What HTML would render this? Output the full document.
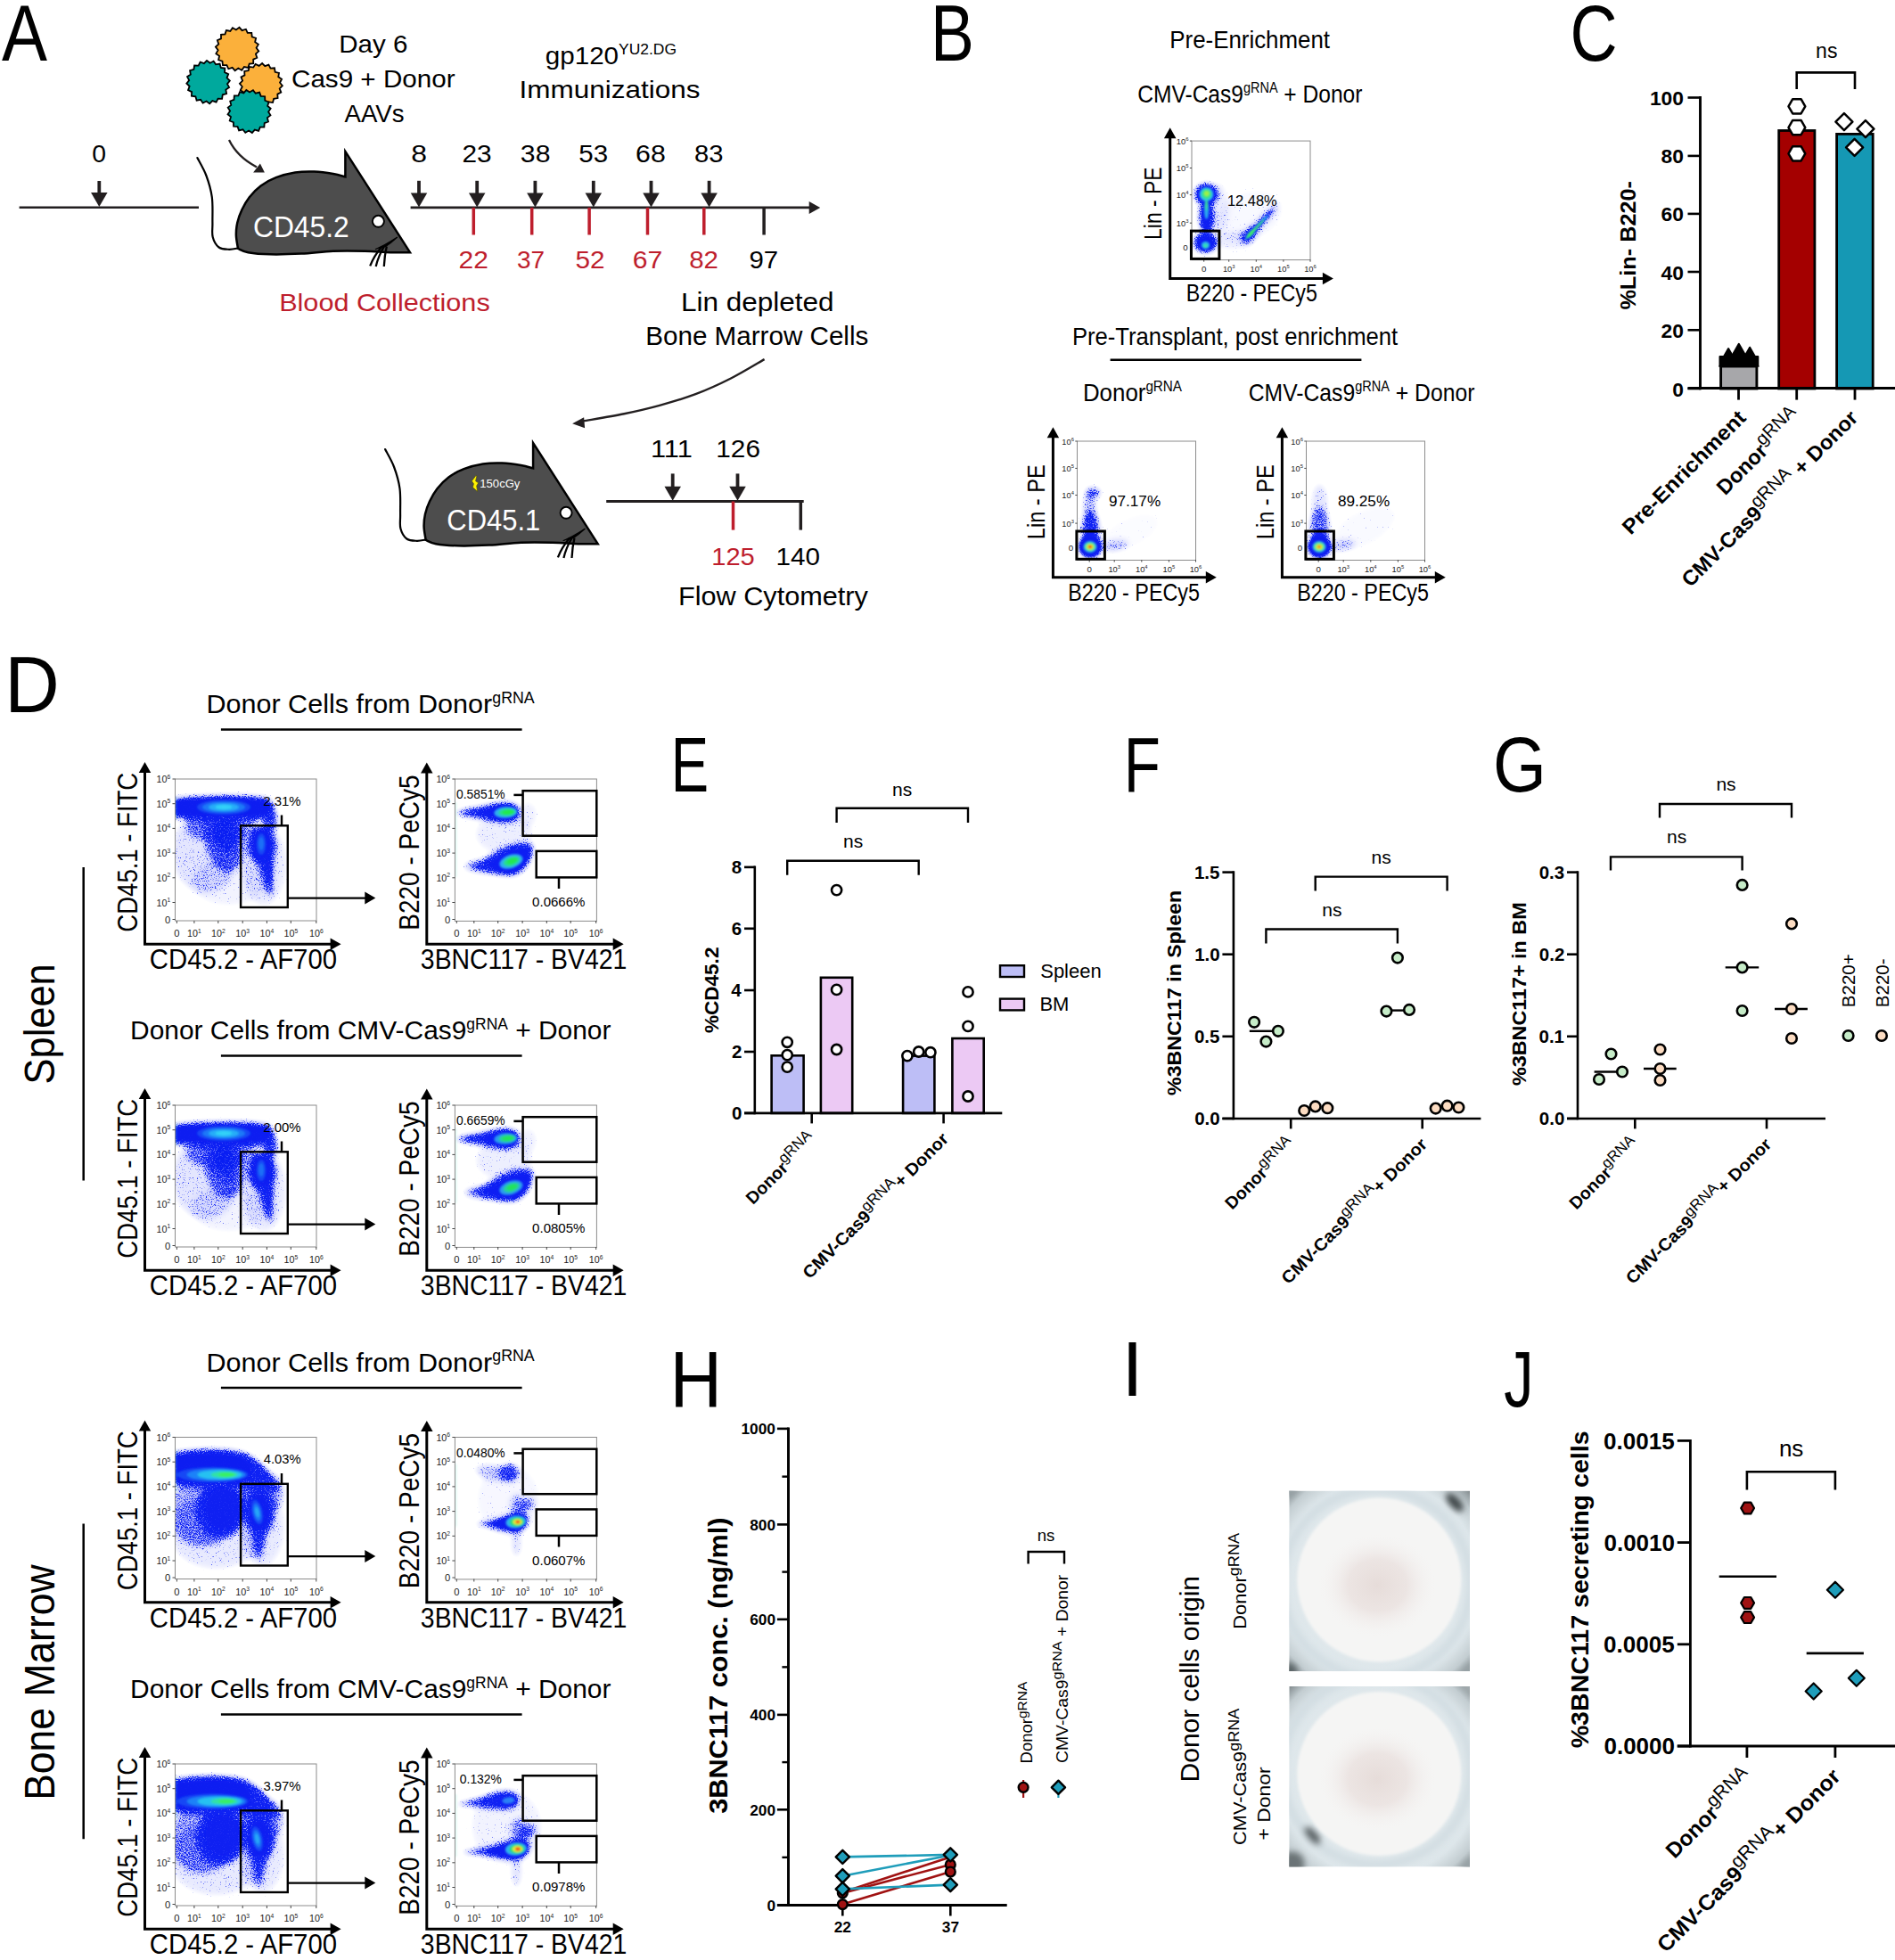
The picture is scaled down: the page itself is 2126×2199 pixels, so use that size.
<!DOCTYPE html>
<html><head><meta charset="utf-8"><title>Figure</title>
<style>html,body{margin:0;padding:0;background:#fff}svg{display:block}text{font-family:"Liberation Sans",sans-serif}</style>
</head><body>
<svg width="2126" height="2199" viewBox="0 0 2126 2199">
<defs>
<filter id="stip" x="-5%" y="-5%" width="110%" height="110%" color-interpolation-filters="sRGB">
<feGaussianBlur in="SourceAlpha" stdDeviation="3.2" result="d"/>
<feTurbulence type="fractalNoise" baseFrequency="0.8" numOctaves="2" seed="7" result="n"/>
<feColorMatrix in="n" type="matrix" values="0 0 0 0 0 0 0 0 0 0 0 0 0 0 0 1.6 0 0 0 -0.3" result="na"/>
<feComposite in="d" in2="na" operator="arithmetic" k1="0" k2="1" k3="1" k4="-1" result="s"/>
<feComponentTransfer in="s" result="t"><feFuncA type="linear" slope="3.2" intercept="0"/></feComponentTransfer>
<feGaussianBlur in="t" stdDeviation="0.45" result="t2"/>
<feComponentTransfer in="d" result="hz"><feFuncA type="linear" slope="0.5" intercept="-0.035"/></feComponentTransfer>
<feComposite in="t2" in2="hz" operator="arithmetic" k1="-1" k2="1" k3="1" k4="0" result="u"/>
<feFlood flood-color="#0f22f4" result="c"/>
<feComposite in="c" in2="u" operator="in"/>
</filter>
<filter id="bl0" x="-30%" y="-30%" width="160%" height="160%"><feGaussianBlur stdDeviation="0.9"/></filter>
<filter id="bl1" x="-30%" y="-30%" width="160%" height="160%"><feGaussianBlur stdDeviation="1.2"/></filter>
<filter id="bl2" x="-30%" y="-30%" width="160%" height="160%"><feGaussianBlur stdDeviation="2.2"/></filter>
<filter id="bl3" x="-30%" y="-30%" width="160%" height="160%"><feGaussianBlur stdDeviation="3.5"/></filter>

<radialGradient id="wellbg" cx="50%" cy="50%" r="71%"><stop offset="0" stop-color="#e9eff1"/><stop offset="0.78" stop-color="#dde6ea"/><stop offset="0.9" stop-color="#c3cdd1"/><stop offset="1" stop-color="#7d8689"/></radialGradient>
<radialGradient id="wellpk" cx="50%" cy="50%" r="50%"><stop offset="0" stop-color="#e6dcd9"/><stop offset="0.5" stop-color="#ebe3e1" stop-opacity="0.9"/><stop offset="1" stop-color="#f5f3f2" stop-opacity="0"/></radialGradient>
<filter id="wbl" x="-20%" y="-20%" width="140%" height="140%"><feGaussianBlur stdDeviation="3.5"/></filter>
<filter id="wbl2" x="-20%" y="-20%" width="140%" height="140%"><feGaussianBlur stdDeviation="1.6"/></filter>
</defs>
<rect width="2126" height="2199" fill="#fff"/>
<text transform="translate(2.05 68.1) scale(0.8653 1)" font-size="88.37">A</text>
<line x1="21.6" y1="232.7" x2="223" y2="232.7" stroke="#231f20" stroke-width="2.6"/>
<line x1="111.3" y1="203" x2="111.3" y2="223" stroke="#231f20" stroke-width="3.8"/>
<polygon points="111.3,232 102.05,216 120.55,216" fill="#231f20"/>
<text x="103.27" y="182.4" font-size="27.5" textLength="15.76" lengthAdjust="spacingAndGlyphs">0</text>
<polygon points="290.28,57.43 286.9,60.47 288.35,64.78 284.19,66.63 284.23,71.17 279.71,71.65 278.35,75.99 273.9,75.04 271.26,78.74 267.33,76.47 263.67,79.18 260.63,75.8 256.32,77.25 254.47,73.09 249.93,73.13 249.45,68.61 245.11,67.25 246.06,62.8 242.36,60.16 244.63,56.23 241.92,52.57 245.3,49.53 243.85,45.22 248.01,43.37 247.97,38.83 252.49,38.35 253.85,34.01 258.3,34.96 260.94,31.26 264.87,33.53 268.53,30.82 271.57,34.2 275.88,32.75 277.73,36.91 282.27,36.87 282.75,41.39 287.09,42.75 286.14,47.2 289.84,49.84 287.57,53.77" fill="#fbb03b" stroke="#000" stroke-width="1.8" stroke-linejoin="miter"/>
<polygon points="257.14,98.11 253.35,100.61 254.13,105.09 249.75,106.3 249.11,110.8 244.57,110.6 242.58,114.68 238.32,113.08 235.16,116.35 231.6,113.51 227.59,115.64 225.09,111.85 220.61,112.63 219.4,108.25 214.9,107.61 215.1,103.07 211.02,101.08 212.62,96.82 209.35,93.66 212.19,90.1 210.06,86.09 213.85,83.59 213.07,79.11 217.45,77.9 218.09,73.4 222.63,73.6 224.62,69.52 228.88,71.12 232.04,67.85 235.6,70.69 239.61,68.56 242.11,72.35 246.59,71.57 247.8,75.95 252.3,76.59 252.1,81.13 256.18,83.12 254.58,87.38 257.85,90.54 255.01,94.1" fill="#00a99d" stroke="#000" stroke-width="1.8" stroke-linejoin="miter"/>
<polygon points="316.87,96.2 313.69,99.37 315.33,103.55 311.32,105.58 311.59,110.06 307.15,110.75 306.02,115.1 301.58,114.38 299.17,118.17 295.17,116.12 291.7,118.97 288.53,115.79 284.35,117.43 282.32,113.42 277.84,113.69 277.15,109.25 272.8,108.12 273.52,103.68 269.73,101.27 271.78,97.27 268.93,93.8 272.11,90.63 270.47,86.45 274.48,84.42 274.21,79.94 278.65,79.25 279.78,74.9 284.22,75.62 286.63,71.83 290.63,73.88 294.1,71.03 297.27,74.21 301.45,72.57 303.48,76.58 307.96,76.31 308.65,80.75 313,81.88 312.28,86.32 316.07,88.73 314.02,92.73" fill="#fbb03b" stroke="#000" stroke-width="1.8" stroke-linejoin="miter"/>
<polygon points="303.51,129.35 299.9,132.11 300.99,136.53 296.7,138.04 296.38,142.57 291.84,142.68 290.13,146.9 285.78,145.6 282.85,149.08 279.11,146.5 275.25,148.91 272.49,145.3 268.07,146.39 266.56,142.1 262.03,141.78 261.92,137.24 257.7,135.53 259,131.18 255.52,128.25 258.1,124.51 255.69,120.65 259.3,117.89 258.21,113.47 262.5,111.96 262.82,107.43 267.36,107.32 269.07,103.1 273.42,104.4 276.35,100.92 280.09,103.5 283.95,101.09 286.71,104.7 291.13,103.61 292.64,107.9 297.17,108.22 297.28,112.76 301.5,114.47 300.2,118.82 303.68,121.75 301.1,125.49" fill="#00a99d" stroke="#000" stroke-width="1.8" stroke-linejoin="miter"/>
<path d="M257,157.1 Q266,176 288,187.5" fill="none" stroke="#231f20" stroke-width="2.3"/>
<polygon points="296.9,193.5 284.1,193.5 291.9,183.5" fill="#231f20"/>
<text x="380.19" y="58.6" font-size="28.5" textLength="77.11" lengthAdjust="spacingAndGlyphs">Day 6</text>
<text x="327.02" y="97.8" font-size="28.5" textLength="183.51" lengthAdjust="spacingAndGlyphs">Cas9 + Donor</text>
<text x="386.5" y="137.2" font-size="28.5" textLength="67.02" lengthAdjust="spacingAndGlyphs">AAVs</text>
<g transform="translate(0 0)">
<path d="M221.4,177.1 C223.07,180.42 228.67,189.65 231.4,197 C234.13,204.35 236.63,212.42 237.8,221.2 C238.97,229.98 238.25,242.23 238.4,249.7 C238.55,257.17 237.5,261.37 238.7,266 C239.9,270.63 242.55,275.2 245.6,277.5 C248.65,279.8 253.35,279.65 257,279.8 C260.65,279.95 265.75,278.63 267.5,278.4" fill="none" stroke="#000" stroke-width="2.2" stroke-linecap="round"/>
<path d="M267,278.9 C266.65,276.42 265.02,268.87 264.9,264 C264.78,259.13 265.23,254.45 266.3,249.7 C267.37,244.95 269.05,240.25 271.3,235.5 C273.55,230.75 276.25,225.72 279.8,221.2 C283.35,216.68 287.62,212.07 292.6,208.4 C297.58,204.73 303.28,201.68 309.7,199.2 C316.12,196.72 323.97,194.62 331.1,193.5 C338.23,192.38 345.38,192.27 352.5,192.5 C359.62,192.73 367.98,193.92 373.8,194.9 C379.62,195.88 385.13,197.82 387.4,198.4 L387.4,169.9 L460,283.2  C456.33,283.2 446.42,283.43 438,283.2 C429.58,282.97 420.2,282.03 409.5,281.8 C398.8,281.57 385.68,281.33 373.8,281.8 C361.92,282.27 350.07,284.02 338.2,284.6 C326.33,285.18 312.57,285.53 302.6,285.3 C292.63,285.07 284.33,284.27 278.4,283.2 C272.47,282.13 268.9,279.62 267,278.9 Z" fill="#4d4d4d" stroke="#000" stroke-width="2.5" stroke-linejoin="miter"/>
<circle cx="424.4" cy="248.3" r="6.5" fill="#fff" stroke="#000" stroke-width="1.9"/>
<path d="M420.9,279.7 C427,277.5 436,272.5 445.8,266.1 C440,271.5 436,274.5 432,277" fill="#000" stroke="#000" stroke-width="1.2"/>
<path d="M428.5,276.5 C423,283 418,291 415.2,298.4 M431,276.5 C426.5,284 423.5,291 421.7,299 M433.8,276.5 C432,284 431.2,291 430.8,299" fill="none" stroke="#000" stroke-width="2.3"/>
</g>
<text x="283.91" y="266.1" font-size="33" fill="#fff" textLength="107.9" lengthAdjust="spacingAndGlyphs">CD45.2</text>
<line x1="460.6" y1="232.9" x2="910" y2="232.9" stroke="#231f20" stroke-width="2.7"/>
<polygon points="920.2,232.9 907.7,239.9 907.7,225.9" fill="#231f20"/>
<line x1="470" y1="202.8" x2="470" y2="223.4" stroke="#231f20" stroke-width="3.8"/>
<polygon points="470,232.4 460.75,216.4 479.25,216.4" fill="#231f20"/>
<text x="461.26" y="182.2" font-size="27.5" textLength="17.75" lengthAdjust="spacingAndGlyphs">8</text>
<line x1="535.2" y1="202.8" x2="535.2" y2="223.4" stroke="#231f20" stroke-width="3.8"/>
<polygon points="535.2,232.4 525.95,216.4 544.45,216.4" fill="#231f20"/>
<text x="518.41" y="182.2" font-size="27.5" textLength="33.15" lengthAdjust="spacingAndGlyphs">23</text>
<line x1="600.4" y1="202.8" x2="600.4" y2="223.4" stroke="#231f20" stroke-width="3.8"/>
<polygon points="600.4,232.4 591.15,216.4 609.65,216.4" fill="#231f20"/>
<text x="583.89" y="182.2" font-size="27.5" textLength="33.59" lengthAdjust="spacingAndGlyphs">38</text>
<line x1="665.8" y1="202.8" x2="665.8" y2="223.4" stroke="#231f20" stroke-width="3.8"/>
<polygon points="665.8,232.4 656.55,216.4 675.05,216.4" fill="#231f20"/>
<text x="649.32" y="182.2" font-size="27.5" textLength="32.83" lengthAdjust="spacingAndGlyphs">53</text>
<line x1="730.5" y1="202.8" x2="730.5" y2="223.4" stroke="#231f20" stroke-width="3.8"/>
<polygon points="730.5,232.4 721.25,216.4 739.75,216.4" fill="#231f20"/>
<text x="713.09" y="182.2" font-size="27.5" textLength="33.7" lengthAdjust="spacingAndGlyphs">68</text>
<line x1="795.6" y1="202.8" x2="795.6" y2="223.4" stroke="#231f20" stroke-width="3.8"/>
<polygon points="795.6,232.4 786.35,216.4 804.85,216.4" fill="#231f20"/>
<text x="778.99" y="182.2" font-size="27.5" textLength="32.45" lengthAdjust="spacingAndGlyphs">83</text>
<line x1="531.3" y1="232.9" x2="531.3" y2="263.5" stroke="#be1e2d" stroke-width="3.5"/>
<text x="514.5" y="301" font-size="27.5" fill="#be1e2d" textLength="33.37" lengthAdjust="spacingAndGlyphs">22</text>
<line x1="596.7" y1="232.9" x2="596.7" y2="263.5" stroke="#be1e2d" stroke-width="3.5"/>
<text x="579.98" y="301" font-size="27.5" fill="#be1e2d" textLength="31.08" lengthAdjust="spacingAndGlyphs">37</text>
<line x1="661.1" y1="232.9" x2="661.1" y2="263.5" stroke="#be1e2d" stroke-width="3.5"/>
<text x="645.41" y="301" font-size="27.5" fill="#be1e2d" textLength="33.04" lengthAdjust="spacingAndGlyphs">52</text>
<line x1="726.5" y1="232.9" x2="726.5" y2="263.5" stroke="#be1e2d" stroke-width="3.5"/>
<text x="709.7" y="301" font-size="27.5" fill="#be1e2d" textLength="33.48" lengthAdjust="spacingAndGlyphs">67</text>
<line x1="789.8" y1="232.9" x2="789.8" y2="263.5" stroke="#be1e2d" stroke-width="3.5"/>
<text x="773.17" y="301" font-size="27.5" fill="#be1e2d" textLength="32.77" lengthAdjust="spacingAndGlyphs">82</text>
<line x1="857.1" y1="232.9" x2="857.1" y2="263.5" stroke="#231f20" stroke-width="3.5"/>
<text x="840.48" y="301" font-size="27.5" textLength="32.66" lengthAdjust="spacingAndGlyphs">97</text>
<g transform="translate(613 71.8)">
<text x="-1.18" y="0" font-size="28.5" textLength="82.25" lengthAdjust="spacingAndGlyphs">gp120</text>
<text x="81.06" y="-11" font-size="16.8" textLength="64.91" lengthAdjust="spacingAndGlyphs">YU2.DG</text>
</g>
<text x="582.57" y="110" font-size="28.5" textLength="203" lengthAdjust="spacingAndGlyphs">Immunizations</text>
<text x="313.15" y="348.7" font-size="28.5" fill="#be1e2d" textLength="236.58" lengthAdjust="spacingAndGlyphs">Blood Collections</text>
<text x="763.98" y="348.7" font-size="29" textLength="171.54" lengthAdjust="spacingAndGlyphs">Lin depleted</text>
<text x="724.23" y="387" font-size="29" textLength="250.13" lengthAdjust="spacingAndGlyphs">Bone Marrow Cells</text>
<path d="M857.6,403.1 C851.33,406.67 832.87,417.98 820,424.5 C807.13,431.02 793.73,437.15 780.4,442.2 C767.07,447.25 753.37,451.13 740,454.8 C726.63,458.47 714.45,461.27 700.2,464.2 C685.95,467.13 662.12,471.03 654.5,472.4" fill="none" stroke="#231f20" stroke-width="2.4"/>
<polygon points="642.1,475.2 655.1,468.2 656.1,480.3" fill="#231f20"/>
<g transform="translate(210.7 327)">
<path d="M221.4,177.1 C223.07,180.42 228.67,189.65 231.4,197 C234.13,204.35 236.63,212.42 237.8,221.2 C238.97,229.98 238.25,242.23 238.4,249.7 C238.55,257.17 237.5,261.37 238.7,266 C239.9,270.63 242.55,275.2 245.6,277.5 C248.65,279.8 253.35,279.65 257,279.8 C260.65,279.95 265.75,278.63 267.5,278.4" fill="none" stroke="#000" stroke-width="2.2" stroke-linecap="round"/>
<path d="M267,278.9 C266.65,276.42 265.02,268.87 264.9,264 C264.78,259.13 265.23,254.45 266.3,249.7 C267.37,244.95 269.05,240.25 271.3,235.5 C273.55,230.75 276.25,225.72 279.8,221.2 C283.35,216.68 287.62,212.07 292.6,208.4 C297.58,204.73 303.28,201.68 309.7,199.2 C316.12,196.72 323.97,194.62 331.1,193.5 C338.23,192.38 345.38,192.27 352.5,192.5 C359.62,192.73 367.98,193.92 373.8,194.9 C379.62,195.88 385.13,197.82 387.4,198.4 L387.4,169.9 L460,283.2  C456.33,283.2 446.42,283.43 438,283.2 C429.58,282.97 420.2,282.03 409.5,281.8 C398.8,281.57 385.68,281.33 373.8,281.8 C361.92,282.27 350.07,284.02 338.2,284.6 C326.33,285.18 312.57,285.53 302.6,285.3 C292.63,285.07 284.33,284.27 278.4,283.2 C272.47,282.13 268.9,279.62 267,278.9 Z" fill="#4d4d4d" stroke="#000" stroke-width="2.5" stroke-linejoin="miter"/>
<circle cx="424.4" cy="248.3" r="6.5" fill="#fff" stroke="#000" stroke-width="1.9"/>
<path d="M420.9,279.7 C427,277.5 436,272.5 445.8,266.1 C440,271.5 436,274.5 432,277" fill="#000" stroke="#000" stroke-width="1.2"/>
<path d="M428.5,276.5 C423,283 418,291 415.2,298.4 M431,276.5 C426.5,284 423.5,291 421.7,299 M433.8,276.5 C432,284 431.2,291 430.8,299" fill="none" stroke="#000" stroke-width="2.3"/>
</g>
<text x="501.35" y="595.3" font-size="33" fill="#fff" textLength="104.86" lengthAdjust="spacingAndGlyphs">CD45.1</text>
<text x="538.32" y="546.8" font-size="13.3" fill="#fff" textLength="45.1" lengthAdjust="spacingAndGlyphs">150cGy</text>
<path d="M533.8,533.7 L529.3,539.7 L531.4,542.8 L530.4,546.8 L535.7,551.4 L534.7,545.1 L536.7,541.8 L533.6,539.7 L535.0,534.0 Z" fill="#fff200" stroke="#4a4a10" stroke-width="0.7" stroke-linejoin="round"/>
<line x1="680.2" y1="562.5" x2="901.7" y2="562.5" stroke="#231f20" stroke-width="2.8"/>
<line x1="754.7" y1="531.4" x2="754.7" y2="552.8" stroke="#231f20" stroke-width="3.8"/>
<polygon points="754.7,561.8 745.45,545.8 763.95,545.8" fill="#231f20"/>
<line x1="827.5" y1="531.4" x2="827.5" y2="552.8" stroke="#231f20" stroke-width="3.8"/>
<polygon points="827.5,561.8 818.25,545.8 836.75,545.8" fill="#231f20"/>
<text x="730.04" y="513.3" font-size="28.5" textLength="46.8" lengthAdjust="spacingAndGlyphs">111</text>
<text x="803.32" y="513.3" font-size="28.5" textLength="49.62" lengthAdjust="spacingAndGlyphs">126</text>
<line x1="822.5" y1="562.5" x2="822.5" y2="594.6" stroke="#be1e2d" stroke-width="3.5"/>
<line x1="898.3" y1="562.5" x2="898.3" y2="594.6" stroke="#231f20" stroke-width="3.5"/>
<text x="798.27" y="633.7" font-size="28.5" fill="#be1e2d" textLength="48.55" lengthAdjust="spacingAndGlyphs">125</text>
<text x="870.53" y="633.7" font-size="28.5" textLength="49.47" lengthAdjust="spacingAndGlyphs">140</text>
<text x="760.95" y="678.8" font-size="30" textLength="212.97" lengthAdjust="spacingAndGlyphs">Flow Cytometry</text>
<text transform="translate(1043.99 68.3) scale(0.8201 1)" font-size="89.39">B</text>
<text x="1312.33" y="53.6" font-size="28" textLength="179.65" lengthAdjust="spacingAndGlyphs">Pre-Enrichment</text>
<g transform="translate(1277.5 114.5)">
<text x="-1.23" y="0" font-size="28" textLength="118.68" lengthAdjust="spacingAndGlyphs">CMV-Cas9</text>
<text x="117.45" y="-10.8" font-size="16.5" textLength="38.59" lengthAdjust="spacingAndGlyphs">gRNA</text>
<text x="156.04" y="0" font-size="28" textLength="94.84" lengthAdjust="spacingAndGlyphs" xml:space="preserve"> + Donor</text>
</g>
<path d="M1312.7,152.3 V312.4 H1486.9" fill="none" stroke="#000" stroke-width="3" stroke-linejoin="miter"/>
<polygon points="1312.7,143.3 1319.45,155.3 1305.95,155.3" fill="#000"/>
<polygon points="1495.9,312.4 1483.9,319.15 1483.9,305.65" fill="#000"/>
<clipPath id="cp1"><rect x="1337" y="158.1" width="133" height="133.5"/></clipPath>
<g clip-path="url(#cp1)">
<g filter="url(#stip)"><ellipse cx="1353.5" cy="218.1" rx="13.5" ry="12.5" fill="#000"/><ellipse cx="1353.5" cy="243.1" rx="8.5" ry="19" fill="#000"/><ellipse cx="1352.5" cy="272.1" rx="13.5" ry="11.5" fill="#000"/><ellipse cx="1414.3" cy="250.3" rx="27" ry="3.2" fill="#000" transform="rotate(-46.9 1414.3 250.3)"/><ellipse cx="1404" cy="261.1" rx="13" ry="5.5" fill="#000" transform="rotate(-46.9 1404 261.1)"/><ellipse cx="1399" cy="266.1" rx="8.5" ry="7.5" fill="#000" opacity="0.7"/><ellipse cx="1401" cy="242.1" rx="40" ry="28" fill="#000" opacity="0.13" transform="rotate(-20 1401 242.1)"/><ellipse cx="1383" cy="270.1" rx="22" ry="10" fill="#000" opacity="0.22"/><ellipse cx="1367" cy="233.1" rx="12" ry="28" fill="#000" opacity="0.2"/></g>
<g filter="url(#bl1)"><ellipse cx="1353.5" cy="218.1" rx="10.5" ry="9.5" fill="#0c1ef2" opacity="0.95"/><ellipse cx="1353.5" cy="242.1" rx="4.8" ry="17" fill="#0c1ef2" opacity="0.9"/><ellipse cx="1352.5" cy="273.1" rx="9.8" ry="8" fill="#0c1ef2" opacity="0.95"/><ellipse cx="1412" cy="252.7" rx="23" ry="1.8" fill="#0c1ef2" opacity="0.95" transform="rotate(-46.9 1412 252.7)"/><ellipse cx="1403.5" cy="261.7" rx="10" ry="3.2" fill="#0c1ef2" opacity="0.95" transform="rotate(-46.9 1403.5 261.7)"/></g>
<g filter="url(#bl0)"><ellipse cx="1353.5" cy="218.1" rx="7.8" ry="7.8" fill="#30c8ec" opacity="0.95"/><ellipse cx="1353.6" cy="217.7" rx="5.3" ry="5.5" fill="#38e87a" opacity="0.95"/><ellipse cx="1353.8" cy="217.1" rx="2.8" ry="2.9" fill="#a8f040" opacity="0.95"/><ellipse cx="1353.5" cy="235.1" rx="2.6" ry="11" fill="#30c8ec" opacity="0.8"/><ellipse cx="1353.5" cy="230.1" rx="1.6" ry="6" fill="#38e87a" opacity="0.7"/><ellipse cx="1352.5" cy="275.1" rx="4.6" ry="4.2" fill="#30c8ec" opacity="0.9"/><ellipse cx="1352.5" cy="275.7" rx="2.3" ry="2.1" fill="#38e8a0" opacity="0.9"/><ellipse cx="1410" cy="254.9" rx="19" ry="1.5" fill="#30c8ec" opacity="0.95" transform="rotate(-46.9 1410 254.9)"/><ellipse cx="1403.5" cy="261.8" rx="8" ry="2.4" fill="#30d8d0" opacity="0.95" transform="rotate(-46.9 1403.5 261.8)"/><ellipse cx="1408" cy="257" rx="15" ry="1" fill="#40ee50" opacity="0.95" transform="rotate(-46.9 1408 257)"/><ellipse cx="1403.5" cy="261.8" rx="6" ry="1.7" fill="#40ee50" opacity="0.95" transform="rotate(-46.9 1403.5 261.8)"/></g>
</g>
<rect x="1337" y="158.1" width="133" height="133.5" fill="none" stroke="#8c8c8c" stroke-width="1"/>
<text x="1319.81" y="161.6" font-size="9.7" fill="#1c1c1c" textLength="10.36" lengthAdjust="spacingAndGlyphs">10</text><text x="1330.16" y="157.72" font-size="5.82" fill="#1c1c1c">6</text>
<line x1="1334.8" y1="158.1" x2="1337" y2="158.1" stroke="#333" stroke-width="0.9"/>
<text x="1319.81" y="192" font-size="9.7" fill="#1c1c1c" textLength="10.36" lengthAdjust="spacingAndGlyphs">10</text><text x="1330.16" y="188.12" font-size="5.82" fill="#1c1c1c">5</text>
<line x1="1334.8" y1="188.5" x2="1337" y2="188.5" stroke="#333" stroke-width="0.9"/>
<text x="1319.81" y="222.1" font-size="9.7" fill="#1c1c1c" textLength="10.36" lengthAdjust="spacingAndGlyphs">10</text><text x="1330.16" y="218.22" font-size="5.82" fill="#1c1c1c">4</text>
<line x1="1334.8" y1="218.6" x2="1337" y2="218.6" stroke="#333" stroke-width="0.9"/>
<text x="1319.81" y="253.7" font-size="9.7" fill="#1c1c1c" textLength="10.36" lengthAdjust="spacingAndGlyphs">10</text><text x="1330.16" y="249.82" font-size="5.82" fill="#1c1c1c">3</text>
<line x1="1334.8" y1="250.2" x2="1337" y2="250.2" stroke="#333" stroke-width="0.9"/>
<text x="1327.36" y="281.1" font-size="9.7" fill="#1c1c1c">0</text>
<text x="1347.98" y="304.9" font-size="9.7" fill="#1c1c1c">0</text>
<text x="1371.9" y="304.9" font-size="9.7" fill="#1c1c1c" textLength="10.36" lengthAdjust="spacingAndGlyphs">10</text><text x="1382.26" y="301.02" font-size="5.82" fill="#1c1c1c">3</text>
<line x1="1378.7" y1="291.4" x2="1378.7" y2="293.7" stroke="#333" stroke-width="0.9"/>
<text x="1402.5" y="304.9" font-size="9.7" fill="#1c1c1c" textLength="10.36" lengthAdjust="spacingAndGlyphs">10</text><text x="1412.86" y="301.02" font-size="5.82" fill="#1c1c1c">4</text>
<line x1="1409.3" y1="291.4" x2="1409.3" y2="293.7" stroke="#333" stroke-width="0.9"/>
<text x="1433.1" y="304.9" font-size="9.7" fill="#1c1c1c" textLength="10.36" lengthAdjust="spacingAndGlyphs">10</text><text x="1443.46" y="301.02" font-size="5.82" fill="#1c1c1c">5</text>
<line x1="1439.9" y1="291.4" x2="1439.9" y2="293.7" stroke="#333" stroke-width="0.9"/>
<text x="1463.2" y="304.9" font-size="9.7" fill="#1c1c1c" textLength="10.36" lengthAdjust="spacingAndGlyphs">10</text><text x="1473.56" y="301.02" font-size="5.82" fill="#1c1c1c">6</text>
<line x1="1470" y1="291.4" x2="1470" y2="293.7" stroke="#333" stroke-width="0.9"/>
<line x1="1350.7" y1="291.4" x2="1350.7" y2="293.7" stroke="#333" stroke-width="0.9"/>
<rect x="1336.4" y="259.1" width="31.5" height="31.3" fill="none" stroke="#000" stroke-width="3"/>
<text x="1376.97" y="231.3" font-size="15.6" textLength="55.75" lengthAdjust="spacingAndGlyphs">12.48%</text>
<text transform="translate(1303.2 227.8) rotate(-90)" x="-41.08" y="0" font-size="28" textLength="81.29" lengthAdjust="spacingAndGlyphs">Lin - PE</text>
<text x="1330.74" y="337.7" font-size="28" textLength="147.12" lengthAdjust="spacingAndGlyphs">B220 - PECy5</text>
<text x="1202.95" y="387.4" font-size="28" textLength="365.24" lengthAdjust="spacingAndGlyphs">Pre-Transplant, post enrichment</text>
<line x1="1245.6" y1="403.8" x2="1527.4" y2="403.8" stroke="#000" stroke-width="2.4"/>
<g transform="translate(1217 450.2)">
<text x="-2.07" y="0" font-size="28" textLength="70.45" lengthAdjust="spacingAndGlyphs">Donor</text>
<text x="68.38" y="-10.8" font-size="16.5" textLength="40.66" lengthAdjust="spacingAndGlyphs">gRNA</text>
</g>
<g transform="translate(1402 450.2)">
<text x="-1.23" y="0" font-size="28" textLength="119.39" lengthAdjust="spacingAndGlyphs">CMV-Cas9</text>
<text x="118.16" y="-10.8" font-size="16.5" textLength="38.82" lengthAdjust="spacingAndGlyphs">gRNA</text>
<text x="156.98" y="0" font-size="28" textLength="95.41" lengthAdjust="spacingAndGlyphs" xml:space="preserve"> + Donor</text>
</g>
<path d="M1181.4,488.3 V647.8 H1355.8" fill="none" stroke="#000" stroke-width="3" stroke-linejoin="miter"/>
<polygon points="1181.4,479.3 1188.15,491.3 1174.65,491.3" fill="#000"/>
<polygon points="1364.8,647.8 1352.8,654.55 1352.8,641.05" fill="#000"/>
<clipPath id="cp2"><rect x="1208.5" y="495" width="133" height="133.5"/></clipPath>
<g clip-path="url(#cp2)">
<g filter="url(#stip)"><ellipse cx="1223.5" cy="613" rx="13" ry="13" fill="#000"/><ellipse cx="1223.5" cy="595" rx="10" ry="22" fill="#000" opacity="0.85"/><ellipse cx="1226.5" cy="553" rx="8" ry="6" fill="#000" opacity="0.75"/><ellipse cx="1222.5" cy="575" rx="7" ry="28" fill="#000" opacity="0.5"/><ellipse cx="1250.5" cy="612" rx="15" ry="6" fill="#000" opacity="0.42" transform="rotate(-10 1250.5 612)"/><ellipse cx="1268.5" cy="597" rx="36" ry="18" fill="#000" opacity="0.1" transform="rotate(-25 1268.5 597)"/></g>
<g filter="url(#bl1)"><ellipse cx="1223" cy="613.5" rx="12.3" ry="11.5" fill="#0c1ef2" opacity="0.97"/><path d="M1213.5,607 L1232.5,607 L1225,592 L1221.5,592Z" fill="#0c1ef2" opacity="0.9"/></g>
<g filter="url(#bl0)"><ellipse cx="1223" cy="613.5" rx="7.5" ry="6.5" fill="#35c8e8" opacity="0.95"/><ellipse cx="1223" cy="613.5" rx="5.5" ry="4.5" fill="#6df06a" opacity="0.95"/><ellipse cx="1223" cy="613.5" rx="3.6" ry="2.8" fill="#f2e82c" opacity="0.95"/><ellipse cx="1223" cy="613.5" rx="2.1" ry="1.7" fill="#f02a14"/></g>
</g>
<rect x="1208.5" y="495" width="133" height="133.5" fill="none" stroke="#8c8c8c" stroke-width="1"/>
<text x="1191.31" y="498.5" font-size="9.7" fill="#1c1c1c" textLength="10.36" lengthAdjust="spacingAndGlyphs">10</text><text x="1201.66" y="494.62" font-size="5.82" fill="#1c1c1c">6</text>
<line x1="1206.3" y1="495" x2="1208.5" y2="495" stroke="#333" stroke-width="0.9"/>
<text x="1191.31" y="528.9" font-size="9.7" fill="#1c1c1c" textLength="10.36" lengthAdjust="spacingAndGlyphs">10</text><text x="1201.66" y="525.02" font-size="5.82" fill="#1c1c1c">5</text>
<line x1="1206.3" y1="525.4" x2="1208.5" y2="525.4" stroke="#333" stroke-width="0.9"/>
<text x="1191.31" y="559" font-size="9.7" fill="#1c1c1c" textLength="10.36" lengthAdjust="spacingAndGlyphs">10</text><text x="1201.66" y="555.12" font-size="5.82" fill="#1c1c1c">4</text>
<line x1="1206.3" y1="555.5" x2="1208.5" y2="555.5" stroke="#333" stroke-width="0.9"/>
<text x="1191.31" y="590.6" font-size="9.7" fill="#1c1c1c" textLength="10.36" lengthAdjust="spacingAndGlyphs">10</text><text x="1201.66" y="586.72" font-size="5.82" fill="#1c1c1c">3</text>
<line x1="1206.3" y1="587.1" x2="1208.5" y2="587.1" stroke="#333" stroke-width="0.9"/>
<text x="1198.86" y="618" font-size="9.7" fill="#1c1c1c">0</text>
<text x="1219.48" y="641.8" font-size="9.7" fill="#1c1c1c">0</text>
<text x="1243.4" y="641.8" font-size="9.7" fill="#1c1c1c" textLength="10.36" lengthAdjust="spacingAndGlyphs">10</text><text x="1253.76" y="637.92" font-size="5.82" fill="#1c1c1c">3</text>
<line x1="1250.2" y1="628.3" x2="1250.2" y2="630.6" stroke="#333" stroke-width="0.9"/>
<text x="1274" y="641.8" font-size="9.7" fill="#1c1c1c" textLength="10.36" lengthAdjust="spacingAndGlyphs">10</text><text x="1284.36" y="637.92" font-size="5.82" fill="#1c1c1c">4</text>
<line x1="1280.8" y1="628.3" x2="1280.8" y2="630.6" stroke="#333" stroke-width="0.9"/>
<text x="1304.6" y="641.8" font-size="9.7" fill="#1c1c1c" textLength="10.36" lengthAdjust="spacingAndGlyphs">10</text><text x="1314.96" y="637.92" font-size="5.82" fill="#1c1c1c">5</text>
<line x1="1311.4" y1="628.3" x2="1311.4" y2="630.6" stroke="#333" stroke-width="0.9"/>
<text x="1334.7" y="641.8" font-size="9.7" fill="#1c1c1c" textLength="10.36" lengthAdjust="spacingAndGlyphs">10</text><text x="1345.06" y="637.92" font-size="5.82" fill="#1c1c1c">6</text>
<line x1="1341.5" y1="628.3" x2="1341.5" y2="630.6" stroke="#333" stroke-width="0.9"/>
<line x1="1222.2" y1="628.3" x2="1222.2" y2="630.6" stroke="#333" stroke-width="0.9"/>
<rect x="1207.9" y="596" width="31.5" height="31.3" fill="none" stroke="#000" stroke-width="3"/>
<text x="1244.03" y="568" font-size="15.6" textLength="58.11" lengthAdjust="spacingAndGlyphs">97.17%</text>
<text transform="translate(1172 562.8) rotate(-90)" x="-42.39" y="0" font-size="28" textLength="83.88" lengthAdjust="spacingAndGlyphs">Lin - PE</text>
<text x="1198.13" y="673.6" font-size="28" textLength="147.84" lengthAdjust="spacingAndGlyphs">B220 - PECy5</text>
<path d="M1438.4,488.3 V647.8 H1612.8" fill="none" stroke="#000" stroke-width="3" stroke-linejoin="miter"/>
<polygon points="1438.4,479.3 1445.15,491.3 1431.65,491.3" fill="#000"/>
<polygon points="1621.8,647.8 1609.8,654.55 1609.8,641.05" fill="#000"/>
<clipPath id="cp3"><rect x="1465.5" y="495" width="133" height="133.5"/></clipPath>
<g clip-path="url(#cp3)">
<g filter="url(#stip)"><ellipse cx="1480.5" cy="613" rx="13" ry="13" fill="#000"/><ellipse cx="1480.5" cy="593" rx="11" ry="24" fill="#000" opacity="0.66"/><ellipse cx="1480.5" cy="565" rx="9" ry="22" fill="#000" opacity="0.3"/><ellipse cx="1505.5" cy="612" rx="15" ry="6" fill="#000" opacity="0.4" transform="rotate(-10 1505.5 612)"/><ellipse cx="1530.5" cy="592" rx="40" ry="20" fill="#000" opacity="0.12" transform="rotate(-28 1530.5 592)"/></g>
<g filter="url(#bl1)"><ellipse cx="1480" cy="613.5" rx="12.3" ry="11.5" fill="#0c1ef2" opacity="0.97"/><path d="M1470.5,607 L1489.5,607 L1482,592 L1478.5,592Z" fill="#0c1ef2" opacity="0.9"/></g>
<g filter="url(#bl0)"><ellipse cx="1480" cy="613.5" rx="7.5" ry="6.5" fill="#35c8e8" opacity="0.95"/><ellipse cx="1480" cy="613.5" rx="5.5" ry="4.5" fill="#6df06a" opacity="0.95"/><ellipse cx="1480" cy="613.5" rx="3.4" ry="2.6" fill="#f2e82c" opacity="0.95"/><ellipse cx="1480" cy="613.5" rx="1.7" ry="1.4" fill="#f06a18"/></g>
</g>
<rect x="1465.5" y="495" width="133" height="133.5" fill="none" stroke="#8c8c8c" stroke-width="1"/>
<text x="1448.31" y="498.5" font-size="9.7" fill="#1c1c1c" textLength="10.36" lengthAdjust="spacingAndGlyphs">10</text><text x="1458.66" y="494.62" font-size="5.82" fill="#1c1c1c">6</text>
<line x1="1463.3" y1="495" x2="1465.5" y2="495" stroke="#333" stroke-width="0.9"/>
<text x="1448.31" y="528.9" font-size="9.7" fill="#1c1c1c" textLength="10.36" lengthAdjust="spacingAndGlyphs">10</text><text x="1458.66" y="525.02" font-size="5.82" fill="#1c1c1c">5</text>
<line x1="1463.3" y1="525.4" x2="1465.5" y2="525.4" stroke="#333" stroke-width="0.9"/>
<text x="1448.31" y="559" font-size="9.7" fill="#1c1c1c" textLength="10.36" lengthAdjust="spacingAndGlyphs">10</text><text x="1458.66" y="555.12" font-size="5.82" fill="#1c1c1c">4</text>
<line x1="1463.3" y1="555.5" x2="1465.5" y2="555.5" stroke="#333" stroke-width="0.9"/>
<text x="1448.31" y="590.6" font-size="9.7" fill="#1c1c1c" textLength="10.36" lengthAdjust="spacingAndGlyphs">10</text><text x="1458.66" y="586.72" font-size="5.82" fill="#1c1c1c">3</text>
<line x1="1463.3" y1="587.1" x2="1465.5" y2="587.1" stroke="#333" stroke-width="0.9"/>
<text x="1455.86" y="618" font-size="9.7" fill="#1c1c1c">0</text>
<text x="1476.48" y="641.8" font-size="9.7" fill="#1c1c1c">0</text>
<text x="1500.4" y="641.8" font-size="9.7" fill="#1c1c1c" textLength="10.36" lengthAdjust="spacingAndGlyphs">10</text><text x="1510.76" y="637.92" font-size="5.82" fill="#1c1c1c">3</text>
<line x1="1507.2" y1="628.3" x2="1507.2" y2="630.6" stroke="#333" stroke-width="0.9"/>
<text x="1531" y="641.8" font-size="9.7" fill="#1c1c1c" textLength="10.36" lengthAdjust="spacingAndGlyphs">10</text><text x="1541.36" y="637.92" font-size="5.82" fill="#1c1c1c">4</text>
<line x1="1537.8" y1="628.3" x2="1537.8" y2="630.6" stroke="#333" stroke-width="0.9"/>
<text x="1561.6" y="641.8" font-size="9.7" fill="#1c1c1c" textLength="10.36" lengthAdjust="spacingAndGlyphs">10</text><text x="1571.96" y="637.92" font-size="5.82" fill="#1c1c1c">5</text>
<line x1="1568.4" y1="628.3" x2="1568.4" y2="630.6" stroke="#333" stroke-width="0.9"/>
<text x="1591.7" y="641.8" font-size="9.7" fill="#1c1c1c" textLength="10.36" lengthAdjust="spacingAndGlyphs">10</text><text x="1602.06" y="637.92" font-size="5.82" fill="#1c1c1c">6</text>
<line x1="1598.5" y1="628.3" x2="1598.5" y2="630.6" stroke="#333" stroke-width="0.9"/>
<line x1="1479.2" y1="628.3" x2="1479.2" y2="630.6" stroke="#333" stroke-width="0.9"/>
<rect x="1464.9" y="596" width="31.5" height="31.3" fill="none" stroke="#000" stroke-width="3"/>
<text x="1501.03" y="568" font-size="15.6" textLength="58.11" lengthAdjust="spacingAndGlyphs">89.25%</text>
<text transform="translate(1429 562.8) rotate(-90)" x="-42.39" y="0" font-size="28" textLength="83.88" lengthAdjust="spacingAndGlyphs">Lin - PE</text>
<text x="1455.13" y="673.6" font-size="28" textLength="147.84" lengthAdjust="spacingAndGlyphs">B220 - PECy5</text>
<text transform="translate(1761.45 67.91) scale(0.8282 1)" font-size="88.7">C</text>
<text x="2037.12" y="65.4" font-size="23">ns</text>
<path d="M2015.7,100 V81.4 H2081 V100" fill="none" stroke="#000" stroke-width="2.6"/>
<rect x="1930.6" y="411" width="40.3" height="25" fill="#a7a7aa" stroke="#000" stroke-width="2.9"/>
<rect x="1995.7" y="146.5" width="40.2" height="289.5" fill="#a40000" stroke="#000" stroke-width="2.8"/>
<rect x="2060.6" y="150.4" width="40.6" height="285.6" fill="#1598b4" stroke="#000" stroke-width="2.8"/>
<line x1="1907.5" y1="108" x2="1907.5" y2="437.3" stroke="#000" stroke-width="2.9"/>
<line x1="1893.5" y1="435.5" x2="2126" y2="435.5" stroke="#000" stroke-width="3.1"/>
<line x1="1893.5" y1="109.5" x2="1908" y2="109.5" stroke="#000" stroke-width="2.6"/>
<text x="1850.95" y="118" font-size="22.8" font-weight="bold">100</text>
<line x1="1893.5" y1="174.9" x2="1908" y2="174.9" stroke="#000" stroke-width="2.6"/>
<text x="1863.6" y="183.4" font-size="22.8" font-weight="bold">80</text>
<line x1="1893.5" y1="239.9" x2="1908" y2="239.9" stroke="#000" stroke-width="2.6"/>
<text x="1863.6" y="248.4" font-size="22.8" font-weight="bold">60</text>
<line x1="1893.5" y1="305" x2="1908" y2="305" stroke="#000" stroke-width="2.6"/>
<text x="1863.6" y="313.5" font-size="22.8" font-weight="bold">40</text>
<line x1="1893.5" y1="370.3" x2="1908" y2="370.3" stroke="#000" stroke-width="2.6"/>
<text x="1863.6" y="378.8" font-size="22.8" font-weight="bold">20</text>
<line x1="1893.5" y1="436" x2="1908" y2="436" stroke="#000" stroke-width="2.6"/>
<text x="1876.26" y="444.5" font-size="22.8" font-weight="bold">0</text>
<line x1="1950.5" y1="436" x2="1950.5" y2="448.6" stroke="#000" stroke-width="2.8"/>
<line x1="2015.7" y1="436" x2="2015.7" y2="448.6" stroke="#000" stroke-width="2.8"/>
<line x1="2081" y1="436" x2="2081" y2="448.6" stroke="#000" stroke-width="2.8"/>
<text transform="translate(1834.5 275.5) rotate(-90)" x="-72.13" y="0" font-size="24.5" font-weight="bold" textLength="144.6" lengthAdjust="spacingAndGlyphs">%Lin- B220-</text>
<rect x="1929.5" y="400" width="42.8" height="10.5" fill="#000" stroke="#000" stroke-width="2" stroke-linejoin="round"/>
<polygon points="1939.1,391 1947.1,405 1931.1,405" fill="#000" stroke="#000" stroke-width="2" stroke-linejoin="round"/>
<polygon points="1950.8,385.8 1958.8,399.8 1942.8,399.8" fill="#000" stroke="#000" stroke-width="2" stroke-linejoin="round"/>
<polygon points="1963.1,389.7 1971.1,403.7 1955.1,403.7" fill="#000" stroke="#000" stroke-width="2" stroke-linejoin="round"/>
<polygon points="1929.5,409 1927.8,411.5 1933,411.5" fill="#000"/>
<polygon points="1972.3,409 1974,411.5 1969,411.5" fill="#000"/>
<polygon points="2025.3,119.3 2020.6,127.44 2011.2,127.44 2006.5,119.3 2011.2,111.16 2020.6,111.16" fill="#fff" stroke="#000" stroke-width="2.5" stroke-linejoin="round"/>
<polygon points="2025.3,143.1 2020.6,151.24 2011.2,151.24 2006.5,143.1 2011.2,134.96 2020.6,134.96" fill="#fff" stroke="#000" stroke-width="2.5" stroke-linejoin="round"/>
<polygon points="2025.3,172.3 2020.6,180.44 2011.2,180.44 2006.5,172.3 2011.2,164.16 2020.6,164.16" fill="#fff" stroke="#000" stroke-width="2.5" stroke-linejoin="round"/>
<polygon points="2068.9,127.1 2078.4,136.6 2068.9,146.1 2059.4,136.6" fill="#fff" stroke="#000" stroke-width="2.5" stroke-linejoin="round"/>
<polygon points="2092.9,135.1 2102.4,144.6 2092.9,154.1 2083.4,144.6" fill="#fff" stroke="#000" stroke-width="2.5" stroke-linejoin="round"/>
<polygon points="2080.6,155.9 2090.1,165.4 2080.6,174.9 2071.1,165.4" fill="#fff" stroke="#000" stroke-width="2.5" stroke-linejoin="round"/>
<g transform="translate(1960 470.4) rotate(-45)">
<text x="-184.61" y="0" font-size="23.5" font-weight="bold" textLength="184.9" lengthAdjust="spacingAndGlyphs">Pre-Enrichment</text>
</g>
<g transform="translate(2022.5 469.5) rotate(-45)">
<text x="-123.04" y="0" font-size="23.5" font-weight="bold">Donor</text>
<text x="-53.86" y="-9.63" font-size="20.21">gRNA</text>
</g>
<g transform="translate(2085.6 470.4) rotate(-45)">
<text x="-267.95" y="0" font-size="23.5" font-weight="bold" textLength="116.46" lengthAdjust="spacingAndGlyphs">CMV-Cas9</text>
<text x="-151.49" y="-9.63" font-size="20.21" textLength="54.63" lengthAdjust="spacingAndGlyphs">gRNA</text>
<text x="-96.87" y="0" font-size="23.5" font-weight="bold" textLength="97.24" lengthAdjust="spacingAndGlyphs" xml:space="preserve"> + Donor</text>
</g>
<text transform="translate(5.32 799) scale(0.9602 1)" font-size="88.66">D</text>
<g transform="translate(233.9 800.2)">
<text x="-2.44" y="0" font-size="30" textLength="320.77" lengthAdjust="spacingAndGlyphs">Donor Cells from Donor</text>
<text x="318.33" y="-11.5" font-size="17.5" textLength="47.52" lengthAdjust="spacingAndGlyphs">gRNA</text>
</g>
<line x1="247.9" y1="818.6" x2="585.6" y2="818.6" stroke="#000" stroke-width="2.5"/>
<path d="M162.5,864 V1059.3 H373.6" fill="none" stroke="#000" stroke-width="3" stroke-linejoin="miter"/>
<polygon points="162.5,855 169.25,867 155.75,867" fill="#000"/>
<polygon points="382.6,1059.3 370.6,1066.05 370.6,1052.55" fill="#000"/>
<clipPath id="cp4"><rect x="196.5" y="874" width="158.5" height="159"/></clipPath>
<g clip-path="url(#cp4)">
<g filter="url(#stip)"><g transform="translate(196.5 874)"><path d="M-3,21.5 C30,18 75,17 100,20.5 C114,24 116,40 104,44.5 C80,48.5 30,47.5 -3,43.5Z" fill="#000"/><ellipse cx="52" cy="54" rx="40" ry="17" fill="#000" opacity="0.55"/><ellipse cx="56" cy="68" rx="23" ry="36" fill="#000" opacity="0.62" transform="rotate(-8 56 68)"/><ellipse cx="56" cy="64" rx="14" ry="24" fill="#000" opacity="0.5" transform="rotate(-8 56 64)"/><ellipse cx="34" cy="82" rx="38" ry="46" fill="#000" opacity="0.3"/><ellipse cx="60" cy="116" rx="42" ry="26" fill="#000" opacity="0.18"/><ellipse cx="107" cy="46" rx="8" ry="14" fill="#000" opacity="0.85"/><ellipse cx="97.5" cy="75" rx="15.5" ry="22" fill="#000"/><path d="M90,86 L111,86 L108.5,130 L104,130Z" fill="#000" opacity="0.95"/><ellipse cx="100" cy="96" rx="25" ry="46" fill="#000" opacity="0.24"/></g></g>
<g filter="url(#bl1)"><g transform="translate(196.5 874)"><path d="M0,24.5 C30,21.5 75,20.5 98,24.5 C109,28 109,36.5 100,39.5 C75,43.5 30,42.5 0,39Z" fill="#0c1ef2" opacity="0.97"/><ellipse cx="97.5" cy="74" rx="10.5" ry="17" fill="#0c1ef2" opacity="0.92"/><ellipse cx="104.5" cy="102" rx="2.6" ry="15" fill="#0c1ef2" opacity="0.8" transform="rotate(-4 104.5 102)"/><ellipse cx="56" cy="62" rx="11" ry="18" fill="#0c1ef2" opacity="0.4" transform="rotate(-8 56 62)"/></g></g>
<g filter="url(#bl0)"><g transform="translate(196.5 874)"><ellipse cx="54.5" cy="31.6" rx="30" ry="8.2" fill="#1450f6" opacity="0.85"/><ellipse cx="54.5" cy="31.6" rx="24" ry="6.2" fill="#1c80f8" opacity="0.9"/><ellipse cx="54.5" cy="31.6" rx="17" ry="4.3" fill="#26b0f8" opacity="0.95"/><ellipse cx="54.5" cy="31.6" rx="9.5" ry="2.5" fill="#34d4f8" opacity="0.95"/><ellipse cx="96.6" cy="73" rx="5.2" ry="12" fill="#1450f6" opacity="0.85"/><ellipse cx="96.6" cy="72.5" rx="3" ry="7.5" fill="#1c78f8" opacity="0.85"/><path d="M0.2,20 h0.9 V45 h-0.9Z" fill="#48d8c0" opacity="0.55"/></g></g>
</g>
<rect x="196.5" y="874" width="158.5" height="159" fill="none" stroke="#8c8c8c" stroke-width="1"/>
<text x="175.5" y="878" font-size="11.2" fill="#1c1c1c" textLength="11.96" lengthAdjust="spacingAndGlyphs">10</text><text x="187.46" y="873.52" font-size="6.72" fill="#1c1c1c">6</text>
<line x1="193.5" y1="874" x2="196.5" y2="874" stroke="#333" stroke-width="0.9"/>
<text x="175.5" y="905.7" font-size="11.2" fill="#1c1c1c" textLength="11.96" lengthAdjust="spacingAndGlyphs">10</text><text x="187.46" y="901.22" font-size="6.72" fill="#1c1c1c">5</text>
<line x1="193.5" y1="901.7" x2="196.5" y2="901.7" stroke="#333" stroke-width="0.9"/>
<text x="175.5" y="933.4" font-size="11.2" fill="#1c1c1c" textLength="11.96" lengthAdjust="spacingAndGlyphs">10</text><text x="187.46" y="928.92" font-size="6.72" fill="#1c1c1c">4</text>
<line x1="193.5" y1="929.4" x2="196.5" y2="929.4" stroke="#333" stroke-width="0.9"/>
<text x="175.5" y="961.1" font-size="11.2" fill="#1c1c1c" textLength="11.96" lengthAdjust="spacingAndGlyphs">10</text><text x="187.46" y="956.62" font-size="6.72" fill="#1c1c1c">3</text>
<line x1="193.5" y1="957.1" x2="196.5" y2="957.1" stroke="#333" stroke-width="0.9"/>
<text x="175.5" y="988.8" font-size="11.2" fill="#1c1c1c" textLength="11.96" lengthAdjust="spacingAndGlyphs">10</text><text x="187.46" y="984.32" font-size="6.72" fill="#1c1c1c">2</text>
<line x1="193.5" y1="984.8" x2="196.5" y2="984.8" stroke="#333" stroke-width="0.9"/>
<text x="175.5" y="1016.5" font-size="11.2" fill="#1c1c1c" textLength="11.96" lengthAdjust="spacingAndGlyphs">10</text><text x="187.46" y="1012.02" font-size="6.72" fill="#1c1c1c">1</text>
<line x1="193.5" y1="1012.5" x2="196.5" y2="1012.5" stroke="#333" stroke-width="0.9"/>
<text x="185.08" y="1035.5" font-size="11.2" fill="#1c1c1c">0</text>
<line x1="193.5" y1="1031.5" x2="196.5" y2="1031.5" stroke="#333" stroke-width="0.9"/>
<text x="195.26" y="1051.3" font-size="11.2" fill="#1c1c1c">0</text>
<line x1="198.4" y1="1033" x2="198.4" y2="1036" stroke="#333" stroke-width="0.9"/>
<text x="210.05" y="1051.3" font-size="11.2" fill="#1c1c1c" textLength="11.96" lengthAdjust="spacingAndGlyphs">10</text><text x="222.01" y="1046.82" font-size="6.72" fill="#1c1c1c">1</text>
<line x1="217.9" y1="1033" x2="217.9" y2="1036" stroke="#333" stroke-width="0.9"/>
<text x="236.95" y="1051.3" font-size="11.2" fill="#1c1c1c" textLength="11.96" lengthAdjust="spacingAndGlyphs">10</text><text x="248.91" y="1046.82" font-size="6.72" fill="#1c1c1c">2</text>
<line x1="244.8" y1="1033" x2="244.8" y2="1036" stroke="#333" stroke-width="0.9"/>
<text x="264.35" y="1051.3" font-size="11.2" fill="#1c1c1c" textLength="11.96" lengthAdjust="spacingAndGlyphs">10</text><text x="276.31" y="1046.82" font-size="6.72" fill="#1c1c1c">3</text>
<line x1="272.2" y1="1033" x2="272.2" y2="1036" stroke="#333" stroke-width="0.9"/>
<text x="291.55" y="1051.3" font-size="11.2" fill="#1c1c1c" textLength="11.96" lengthAdjust="spacingAndGlyphs">10</text><text x="303.51" y="1046.82" font-size="6.72" fill="#1c1c1c">4</text>
<line x1="299.4" y1="1033" x2="299.4" y2="1036" stroke="#333" stroke-width="0.9"/>
<text x="318.45" y="1051.3" font-size="11.2" fill="#1c1c1c" textLength="11.96" lengthAdjust="spacingAndGlyphs">10</text><text x="330.41" y="1046.82" font-size="6.72" fill="#1c1c1c">5</text>
<line x1="326.3" y1="1033" x2="326.3" y2="1036" stroke="#333" stroke-width="0.9"/>
<text x="346.95" y="1051.3" font-size="11.2" fill="#1c1c1c" textLength="11.96" lengthAdjust="spacingAndGlyphs">10</text><text x="358.91" y="1046.82" font-size="6.72" fill="#1c1c1c">6</text>
<line x1="354.8" y1="1033" x2="354.8" y2="1036" stroke="#333" stroke-width="0.9"/>
<rect x="270.1" y="926.3" width="52.7" height="91.7" fill="none" stroke="#000" stroke-width="2.4"/>
<line x1="316" y1="914.5" x2="316" y2="926.3" stroke="#000" stroke-width="2.4"/>
<text x="295.25" y="903.7" font-size="15.5" textLength="42.27" lengthAdjust="spacingAndGlyphs">2.31%</text>
<line x1="322.8" y1="1007.6" x2="410.5" y2="1007.6" stroke="#000" stroke-width="2.4"/>
<polygon points="421.3,1007.6 409.3,1014.6 409.3,1000.6" fill="#000"/>
<text transform="translate(153.5 956) rotate(-90)" x="-89.63" y="0" font-size="31" textLength="178.87" lengthAdjust="spacingAndGlyphs">CD45.1 - FITC</text>
<text x="167.83" y="1087" font-size="31" textLength="210.21" lengthAdjust="spacingAndGlyphs">CD45.2 - AF700</text>
<path d="M478.8,864.5 V1059.3 H690.7" fill="none" stroke="#000" stroke-width="3" stroke-linejoin="miter"/>
<polygon points="478.8,855.5 485.55,867.5 472.05,867.5" fill="#000"/>
<polygon points="699.7,1059.3 687.7,1066.05 687.7,1052.55" fill="#000"/>
<clipPath id="cp5"><rect x="510.4" y="874" width="159" height="159.4"/></clipPath>
<g clip-path="url(#cp5)">
<g filter="url(#stip)"><g transform="translate(510.4 874)"><path d="M2,37 C20,34 36,28 52,26 C66,25 74,30 73,38 C73,46 64,50 52,49 C36,47 20,41 2,39Z" fill="#000"/><path d="M16,97 C30,94 40,84 55,77 C66,72 80,70 88,74 C88,84 84,100 70,107 C55,112 40,104 16,99Z" fill="#000"/><ellipse cx="55" cy="62" rx="32" ry="22" fill="#000" opacity="0.22"/><ellipse cx="82" cy="40" rx="10" ry="14" fill="#000" opacity="0.2"/><ellipse cx="40" cy="98" rx="30" ry="9" fill="#000" opacity="0.4"/><ellipse cx="28" cy="38" rx="24" ry="7" fill="#000" opacity="0.4"/></g></g>
<g filter="url(#bl1)"><g transform="translate(510.4 874)"><path d="M30,37 C40,32 50,29 58,29 C68,29 71,34 70,39 C69,45 60,47 52,46 C44,45 38,41 30,38Z" fill="#0c1ef2" opacity="0.95"/><path d="M34,96 C44,91 52,84 62,80 C72,77 82,76 84,79 C84,88 78,100 68,104 C56,107 44,101 34,97Z" fill="#0c1ef2" opacity="0.95"/></g></g>
<g filter="url(#bl0)"><g transform="translate(510.4 874)"><ellipse cx="57" cy="37.5" rx="13" ry="6.2" fill="#2fb4f0" opacity="0.95" transform="rotate(-4 57 37.5)"/><ellipse cx="58.5" cy="37.3" rx="9.5" ry="4.2" fill="#28e08a" opacity="0.95" transform="rotate(-4 58.5 37.3)"/><ellipse cx="59.5" cy="37.2" rx="6.5" ry="2.8" fill="#22e84a" opacity="0.95" transform="rotate(-4 59.5 37.2)"/><ellipse cx="63" cy="92.5" rx="13.5" ry="7.5" fill="#2fb4f0" opacity="0.95" transform="rotate(-18 63 92.5)"/><ellipse cx="63.5" cy="92.3" rx="9.5" ry="5" fill="#28e08a" opacity="0.95" transform="rotate(-18 63.5 92.3)"/><ellipse cx="64" cy="92" rx="6" ry="3.2" fill="#22e84a" opacity="0.9" transform="rotate(-18 64 92)"/><path d="M0.2,26 h0.9 V110 h-0.9Z" fill="#48d8c0" opacity="0.55"/></g></g>
</g>
<rect x="510.4" y="874" width="159" height="159.4" fill="none" stroke="#8c8c8c" stroke-width="1"/>
<text x="489.4" y="878" font-size="11.2" fill="#1c1c1c" textLength="11.96" lengthAdjust="spacingAndGlyphs">10</text><text x="501.36" y="873.52" font-size="6.72" fill="#1c1c1c">6</text>
<line x1="507.4" y1="874" x2="510.4" y2="874" stroke="#333" stroke-width="0.9"/>
<text x="489.4" y="905.7" font-size="11.2" fill="#1c1c1c" textLength="11.96" lengthAdjust="spacingAndGlyphs">10</text><text x="501.36" y="901.22" font-size="6.72" fill="#1c1c1c">5</text>
<line x1="507.4" y1="901.7" x2="510.4" y2="901.7" stroke="#333" stroke-width="0.9"/>
<text x="489.4" y="933.4" font-size="11.2" fill="#1c1c1c" textLength="11.96" lengthAdjust="spacingAndGlyphs">10</text><text x="501.36" y="928.92" font-size="6.72" fill="#1c1c1c">4</text>
<line x1="507.4" y1="929.4" x2="510.4" y2="929.4" stroke="#333" stroke-width="0.9"/>
<text x="489.4" y="961.1" font-size="11.2" fill="#1c1c1c" textLength="11.96" lengthAdjust="spacingAndGlyphs">10</text><text x="501.36" y="956.62" font-size="6.72" fill="#1c1c1c">3</text>
<line x1="507.4" y1="957.1" x2="510.4" y2="957.1" stroke="#333" stroke-width="0.9"/>
<text x="489.4" y="988.8" font-size="11.2" fill="#1c1c1c" textLength="11.96" lengthAdjust="spacingAndGlyphs">10</text><text x="501.36" y="984.32" font-size="6.72" fill="#1c1c1c">2</text>
<line x1="507.4" y1="984.8" x2="510.4" y2="984.8" stroke="#333" stroke-width="0.9"/>
<text x="489.4" y="1016.5" font-size="11.2" fill="#1c1c1c" textLength="11.96" lengthAdjust="spacingAndGlyphs">10</text><text x="501.36" y="1012.02" font-size="6.72" fill="#1c1c1c">1</text>
<line x1="507.4" y1="1012.5" x2="510.4" y2="1012.5" stroke="#333" stroke-width="0.9"/>
<text x="498.98" y="1035.5" font-size="11.2" fill="#1c1c1c">0</text>
<line x1="507.4" y1="1031.5" x2="510.4" y2="1031.5" stroke="#333" stroke-width="0.9"/>
<text x="509.16" y="1051.3" font-size="11.2" fill="#1c1c1c">0</text>
<line x1="512.3" y1="1033" x2="512.3" y2="1036" stroke="#333" stroke-width="0.9"/>
<text x="523.95" y="1051.3" font-size="11.2" fill="#1c1c1c" textLength="11.96" lengthAdjust="spacingAndGlyphs">10</text><text x="535.91" y="1046.82" font-size="6.72" fill="#1c1c1c">1</text>
<line x1="531.8" y1="1033" x2="531.8" y2="1036" stroke="#333" stroke-width="0.9"/>
<text x="550.85" y="1051.3" font-size="11.2" fill="#1c1c1c" textLength="11.96" lengthAdjust="spacingAndGlyphs">10</text><text x="562.81" y="1046.82" font-size="6.72" fill="#1c1c1c">2</text>
<line x1="558.7" y1="1033" x2="558.7" y2="1036" stroke="#333" stroke-width="0.9"/>
<text x="578.25" y="1051.3" font-size="11.2" fill="#1c1c1c" textLength="11.96" lengthAdjust="spacingAndGlyphs">10</text><text x="590.21" y="1046.82" font-size="6.72" fill="#1c1c1c">3</text>
<line x1="586.1" y1="1033" x2="586.1" y2="1036" stroke="#333" stroke-width="0.9"/>
<text x="605.45" y="1051.3" font-size="11.2" fill="#1c1c1c" textLength="11.96" lengthAdjust="spacingAndGlyphs">10</text><text x="617.41" y="1046.82" font-size="6.72" fill="#1c1c1c">4</text>
<line x1="613.3" y1="1033" x2="613.3" y2="1036" stroke="#333" stroke-width="0.9"/>
<text x="632.35" y="1051.3" font-size="11.2" fill="#1c1c1c" textLength="11.96" lengthAdjust="spacingAndGlyphs">10</text><text x="644.31" y="1046.82" font-size="6.72" fill="#1c1c1c">5</text>
<line x1="640.2" y1="1033" x2="640.2" y2="1036" stroke="#333" stroke-width="0.9"/>
<text x="660.85" y="1051.3" font-size="11.2" fill="#1c1c1c" textLength="11.96" lengthAdjust="spacingAndGlyphs">10</text><text x="672.81" y="1046.82" font-size="6.72" fill="#1c1c1c">6</text>
<line x1="668.7" y1="1033" x2="668.7" y2="1036" stroke="#333" stroke-width="0.9"/>
<rect x="586.6" y="887.2" width="82.7" height="50.5" fill="none" stroke="#000" stroke-width="2.5"/>
<rect x="601.7" y="954.9" width="67.6" height="29.5" fill="none" stroke="#000" stroke-width="2.5"/>
<line x1="576.4" y1="891.9" x2="586.6" y2="891.9" stroke="#000" stroke-width="2.5"/>
<line x1="627" y1="984.4" x2="627" y2="997" stroke="#000" stroke-width="2.5"/>
<text x="512.05" y="896.2" font-size="14.6" textLength="54.61" lengthAdjust="spacingAndGlyphs">0.5851%</text>
<text x="597.1" y="1017" font-size="14.6" textLength="59.4" lengthAdjust="spacingAndGlyphs">0.0666%</text>
<text transform="translate(469.5 956) rotate(-90)" x="-87.74" y="0" font-size="31" textLength="174.38" lengthAdjust="spacingAndGlyphs">B220 - PeCy5</text>
<text x="471.86" y="1087" font-size="31" textLength="231.5" lengthAdjust="spacingAndGlyphs">3BNC117 - BV421</text>
<g transform="translate(148.4 1166.2)">
<text x="-2.39" y="0" font-size="30" textLength="377.34" lengthAdjust="spacingAndGlyphs">Donor Cells from CMV-Cas9</text>
<text x="374.95" y="-11.5" font-size="17.5" textLength="46.55" lengthAdjust="spacingAndGlyphs">gRNA</text>
<text x="421.5" y="0" font-size="30" textLength="115.57" lengthAdjust="spacingAndGlyphs" xml:space="preserve"> + Donor</text>
</g>
<line x1="247.9" y1="1184.6" x2="585.6" y2="1184.6" stroke="#000" stroke-width="2.5"/>
<path d="M162.5,1230 V1425.3 H373.6" fill="none" stroke="#000" stroke-width="3" stroke-linejoin="miter"/>
<polygon points="162.5,1221 169.25,1233 155.75,1233" fill="#000"/>
<polygon points="382.6,1425.3 370.6,1432.05 370.6,1418.55" fill="#000"/>
<clipPath id="cp6"><rect x="196.5" y="1240" width="158.5" height="159"/></clipPath>
<g clip-path="url(#cp6)">
<g filter="url(#stip)"><g transform="translate(196.5 1240)"><path d="M-3,21.5 C30,18 75,17 100,20.5 C114,24 116,40 104,44.5 C80,48.5 30,47.5 -3,43.5Z" fill="#000"/><ellipse cx="52" cy="54" rx="40" ry="17" fill="#000" opacity="0.55"/><ellipse cx="56" cy="68" rx="23" ry="36" fill="#000" opacity="0.62" transform="rotate(-8 56 68)"/><ellipse cx="56" cy="64" rx="14" ry="24" fill="#000" opacity="0.5" transform="rotate(-8 56 64)"/><ellipse cx="34" cy="82" rx="38" ry="46" fill="#000" opacity="0.3"/><ellipse cx="60" cy="116" rx="42" ry="26" fill="#000" opacity="0.18"/><ellipse cx="107" cy="46" rx="8" ry="14" fill="#000" opacity="0.85"/><ellipse cx="97.5" cy="75" rx="15.5" ry="22" fill="#000"/><path d="M90,86 L111,86 L108.5,130 L104,130Z" fill="#000" opacity="0.95"/><ellipse cx="100" cy="96" rx="25" ry="46" fill="#000" opacity="0.24"/></g></g>
<g filter="url(#bl1)"><g transform="translate(196.5 1240)"><path d="M0,24.5 C30,21.5 75,20.5 98,24.5 C109,28 109,36.5 100,39.5 C75,43.5 30,42.5 0,39Z" fill="#0c1ef2" opacity="0.97"/><ellipse cx="97.5" cy="74" rx="10.5" ry="17" fill="#0c1ef2" opacity="0.92"/><ellipse cx="104.5" cy="102" rx="2.6" ry="15" fill="#0c1ef2" opacity="0.8" transform="rotate(-4 104.5 102)"/><ellipse cx="56" cy="62" rx="11" ry="18" fill="#0c1ef2" opacity="0.4" transform="rotate(-8 56 62)"/></g></g>
<g filter="url(#bl0)"><g transform="translate(196.5 1240)"><ellipse cx="54.5" cy="31.6" rx="30" ry="8.2" fill="#1450f6" opacity="0.85"/><ellipse cx="54.5" cy="31.6" rx="24" ry="6.2" fill="#1c80f8" opacity="0.9"/><ellipse cx="54.5" cy="31.6" rx="17" ry="4.3" fill="#26b0f8" opacity="0.95"/><ellipse cx="54.5" cy="31.6" rx="9.5" ry="2.5" fill="#34d4f8" opacity="0.95"/><ellipse cx="96.6" cy="73" rx="5.2" ry="12" fill="#1450f6" opacity="0.85"/><ellipse cx="96.6" cy="72.5" rx="3" ry="7.5" fill="#1c78f8" opacity="0.85"/><path d="M0.2,20 h0.9 V45 h-0.9Z" fill="#48d8c0" opacity="0.55"/></g></g>
</g>
<rect x="196.5" y="1240" width="158.5" height="159" fill="none" stroke="#8c8c8c" stroke-width="1"/>
<text x="175.5" y="1244" font-size="11.2" fill="#1c1c1c" textLength="11.96" lengthAdjust="spacingAndGlyphs">10</text><text x="187.46" y="1239.52" font-size="6.72" fill="#1c1c1c">6</text>
<line x1="193.5" y1="1240" x2="196.5" y2="1240" stroke="#333" stroke-width="0.9"/>
<text x="175.5" y="1271.7" font-size="11.2" fill="#1c1c1c" textLength="11.96" lengthAdjust="spacingAndGlyphs">10</text><text x="187.46" y="1267.22" font-size="6.72" fill="#1c1c1c">5</text>
<line x1="193.5" y1="1267.7" x2="196.5" y2="1267.7" stroke="#333" stroke-width="0.9"/>
<text x="175.5" y="1299.4" font-size="11.2" fill="#1c1c1c" textLength="11.96" lengthAdjust="spacingAndGlyphs">10</text><text x="187.46" y="1294.92" font-size="6.72" fill="#1c1c1c">4</text>
<line x1="193.5" y1="1295.4" x2="196.5" y2="1295.4" stroke="#333" stroke-width="0.9"/>
<text x="175.5" y="1327.1" font-size="11.2" fill="#1c1c1c" textLength="11.96" lengthAdjust="spacingAndGlyphs">10</text><text x="187.46" y="1322.62" font-size="6.72" fill="#1c1c1c">3</text>
<line x1="193.5" y1="1323.1" x2="196.5" y2="1323.1" stroke="#333" stroke-width="0.9"/>
<text x="175.5" y="1354.8" font-size="11.2" fill="#1c1c1c" textLength="11.96" lengthAdjust="spacingAndGlyphs">10</text><text x="187.46" y="1350.32" font-size="6.72" fill="#1c1c1c">2</text>
<line x1="193.5" y1="1350.8" x2="196.5" y2="1350.8" stroke="#333" stroke-width="0.9"/>
<text x="175.5" y="1382.5" font-size="11.2" fill="#1c1c1c" textLength="11.96" lengthAdjust="spacingAndGlyphs">10</text><text x="187.46" y="1378.02" font-size="6.72" fill="#1c1c1c">1</text>
<line x1="193.5" y1="1378.5" x2="196.5" y2="1378.5" stroke="#333" stroke-width="0.9"/>
<text x="185.08" y="1401.5" font-size="11.2" fill="#1c1c1c">0</text>
<line x1="193.5" y1="1397.5" x2="196.5" y2="1397.5" stroke="#333" stroke-width="0.9"/>
<text x="195.26" y="1417.3" font-size="11.2" fill="#1c1c1c">0</text>
<line x1="198.4" y1="1399" x2="198.4" y2="1402" stroke="#333" stroke-width="0.9"/>
<text x="210.05" y="1417.3" font-size="11.2" fill="#1c1c1c" textLength="11.96" lengthAdjust="spacingAndGlyphs">10</text><text x="222.01" y="1412.82" font-size="6.72" fill="#1c1c1c">1</text>
<line x1="217.9" y1="1399" x2="217.9" y2="1402" stroke="#333" stroke-width="0.9"/>
<text x="236.95" y="1417.3" font-size="11.2" fill="#1c1c1c" textLength="11.96" lengthAdjust="spacingAndGlyphs">10</text><text x="248.91" y="1412.82" font-size="6.72" fill="#1c1c1c">2</text>
<line x1="244.8" y1="1399" x2="244.8" y2="1402" stroke="#333" stroke-width="0.9"/>
<text x="264.35" y="1417.3" font-size="11.2" fill="#1c1c1c" textLength="11.96" lengthAdjust="spacingAndGlyphs">10</text><text x="276.31" y="1412.82" font-size="6.72" fill="#1c1c1c">3</text>
<line x1="272.2" y1="1399" x2="272.2" y2="1402" stroke="#333" stroke-width="0.9"/>
<text x="291.55" y="1417.3" font-size="11.2" fill="#1c1c1c" textLength="11.96" lengthAdjust="spacingAndGlyphs">10</text><text x="303.51" y="1412.82" font-size="6.72" fill="#1c1c1c">4</text>
<line x1="299.4" y1="1399" x2="299.4" y2="1402" stroke="#333" stroke-width="0.9"/>
<text x="318.45" y="1417.3" font-size="11.2" fill="#1c1c1c" textLength="11.96" lengthAdjust="spacingAndGlyphs">10</text><text x="330.41" y="1412.82" font-size="6.72" fill="#1c1c1c">5</text>
<line x1="326.3" y1="1399" x2="326.3" y2="1402" stroke="#333" stroke-width="0.9"/>
<text x="346.95" y="1417.3" font-size="11.2" fill="#1c1c1c" textLength="11.96" lengthAdjust="spacingAndGlyphs">10</text><text x="358.91" y="1412.82" font-size="6.72" fill="#1c1c1c">6</text>
<line x1="354.8" y1="1399" x2="354.8" y2="1402" stroke="#333" stroke-width="0.9"/>
<rect x="270.1" y="1292.3" width="52.7" height="91.7" fill="none" stroke="#000" stroke-width="2.4"/>
<line x1="316" y1="1280.5" x2="316" y2="1292.3" stroke="#000" stroke-width="2.4"/>
<text x="295.25" y="1269.7" font-size="15.5" textLength="42.27" lengthAdjust="spacingAndGlyphs">2.00%</text>
<line x1="322.8" y1="1373.6" x2="410.5" y2="1373.6" stroke="#000" stroke-width="2.4"/>
<polygon points="421.3,1373.6 409.3,1380.6 409.3,1366.6" fill="#000"/>
<text transform="translate(153.5 1322) rotate(-90)" x="-89.63" y="0" font-size="31" textLength="178.87" lengthAdjust="spacingAndGlyphs">CD45.1 - FITC</text>
<text x="167.83" y="1453" font-size="31" textLength="210.21" lengthAdjust="spacingAndGlyphs">CD45.2 - AF700</text>
<path d="M478.8,1230.5 V1425.3 H690.7" fill="none" stroke="#000" stroke-width="3" stroke-linejoin="miter"/>
<polygon points="478.8,1221.5 485.55,1233.5 472.05,1233.5" fill="#000"/>
<polygon points="699.7,1425.3 687.7,1432.05 687.7,1418.55" fill="#000"/>
<clipPath id="cp7"><rect x="510.4" y="1240" width="159" height="159.4"/></clipPath>
<g clip-path="url(#cp7)">
<g filter="url(#stip)"><g transform="translate(510.4 1240)"><path d="M2,37 C20,34 36,28 52,26 C66,25 74,30 73,38 C73,46 64,50 52,49 C36,47 20,41 2,39Z" fill="#000"/><path d="M16,97 C30,94 40,84 55,77 C66,72 80,70 88,74 C88,84 84,100 70,107 C55,112 40,104 16,99Z" fill="#000"/><ellipse cx="55" cy="62" rx="32" ry="22" fill="#000" opacity="0.22"/><ellipse cx="82" cy="40" rx="10" ry="14" fill="#000" opacity="0.2"/><ellipse cx="40" cy="98" rx="30" ry="9" fill="#000" opacity="0.4"/><ellipse cx="28" cy="38" rx="24" ry="7" fill="#000" opacity="0.4"/></g></g>
<g filter="url(#bl1)"><g transform="translate(510.4 1240)"><path d="M30,37 C40,32 50,29 58,29 C68,29 71,34 70,39 C69,45 60,47 52,46 C44,45 38,41 30,38Z" fill="#0c1ef2" opacity="0.95"/><path d="M34,96 C44,91 52,84 62,80 C72,77 82,76 84,79 C84,88 78,100 68,104 C56,107 44,101 34,97Z" fill="#0c1ef2" opacity="0.95"/></g></g>
<g filter="url(#bl0)"><g transform="translate(510.4 1240)"><ellipse cx="57" cy="37.5" rx="13" ry="6.2" fill="#2fb4f0" opacity="0.81" transform="rotate(-4 57 37.5)"/><ellipse cx="58.5" cy="37.3" rx="9.5" ry="4.2" fill="#28e08a" opacity="0.81" transform="rotate(-4 58.5 37.3)"/><ellipse cx="59.5" cy="37.2" rx="6.5" ry="2.8" fill="#22e84a" opacity="0.81" transform="rotate(-4 59.5 37.2)"/><ellipse cx="63" cy="92.5" rx="13.5" ry="7.5" fill="#2fb4f0" opacity="0.81" transform="rotate(-18 63 92.5)"/><ellipse cx="63.5" cy="92.3" rx="9.5" ry="5" fill="#28e08a" opacity="0.81" transform="rotate(-18 63.5 92.3)"/><ellipse cx="64" cy="92" rx="6" ry="3.2" fill="#22e84a" opacity="0.77" transform="rotate(-18 64 92)"/><path d="M0.2,26 h0.9 V110 h-0.9Z" fill="#48d8c0" opacity="0.55"/></g></g>
</g>
<rect x="510.4" y="1240" width="159" height="159.4" fill="none" stroke="#8c8c8c" stroke-width="1"/>
<text x="489.4" y="1244" font-size="11.2" fill="#1c1c1c" textLength="11.96" lengthAdjust="spacingAndGlyphs">10</text><text x="501.36" y="1239.52" font-size="6.72" fill="#1c1c1c">6</text>
<line x1="507.4" y1="1240" x2="510.4" y2="1240" stroke="#333" stroke-width="0.9"/>
<text x="489.4" y="1271.7" font-size="11.2" fill="#1c1c1c" textLength="11.96" lengthAdjust="spacingAndGlyphs">10</text><text x="501.36" y="1267.22" font-size="6.72" fill="#1c1c1c">5</text>
<line x1="507.4" y1="1267.7" x2="510.4" y2="1267.7" stroke="#333" stroke-width="0.9"/>
<text x="489.4" y="1299.4" font-size="11.2" fill="#1c1c1c" textLength="11.96" lengthAdjust="spacingAndGlyphs">10</text><text x="501.36" y="1294.92" font-size="6.72" fill="#1c1c1c">4</text>
<line x1="507.4" y1="1295.4" x2="510.4" y2="1295.4" stroke="#333" stroke-width="0.9"/>
<text x="489.4" y="1327.1" font-size="11.2" fill="#1c1c1c" textLength="11.96" lengthAdjust="spacingAndGlyphs">10</text><text x="501.36" y="1322.62" font-size="6.72" fill="#1c1c1c">3</text>
<line x1="507.4" y1="1323.1" x2="510.4" y2="1323.1" stroke="#333" stroke-width="0.9"/>
<text x="489.4" y="1354.8" font-size="11.2" fill="#1c1c1c" textLength="11.96" lengthAdjust="spacingAndGlyphs">10</text><text x="501.36" y="1350.32" font-size="6.72" fill="#1c1c1c">2</text>
<line x1="507.4" y1="1350.8" x2="510.4" y2="1350.8" stroke="#333" stroke-width="0.9"/>
<text x="489.4" y="1382.5" font-size="11.2" fill="#1c1c1c" textLength="11.96" lengthAdjust="spacingAndGlyphs">10</text><text x="501.36" y="1378.02" font-size="6.72" fill="#1c1c1c">1</text>
<line x1="507.4" y1="1378.5" x2="510.4" y2="1378.5" stroke="#333" stroke-width="0.9"/>
<text x="498.98" y="1401.5" font-size="11.2" fill="#1c1c1c">0</text>
<line x1="507.4" y1="1397.5" x2="510.4" y2="1397.5" stroke="#333" stroke-width="0.9"/>
<text x="509.16" y="1417.3" font-size="11.2" fill="#1c1c1c">0</text>
<line x1="512.3" y1="1399" x2="512.3" y2="1402" stroke="#333" stroke-width="0.9"/>
<text x="523.95" y="1417.3" font-size="11.2" fill="#1c1c1c" textLength="11.96" lengthAdjust="spacingAndGlyphs">10</text><text x="535.91" y="1412.82" font-size="6.72" fill="#1c1c1c">1</text>
<line x1="531.8" y1="1399" x2="531.8" y2="1402" stroke="#333" stroke-width="0.9"/>
<text x="550.85" y="1417.3" font-size="11.2" fill="#1c1c1c" textLength="11.96" lengthAdjust="spacingAndGlyphs">10</text><text x="562.81" y="1412.82" font-size="6.72" fill="#1c1c1c">2</text>
<line x1="558.7" y1="1399" x2="558.7" y2="1402" stroke="#333" stroke-width="0.9"/>
<text x="578.25" y="1417.3" font-size="11.2" fill="#1c1c1c" textLength="11.96" lengthAdjust="spacingAndGlyphs">10</text><text x="590.21" y="1412.82" font-size="6.72" fill="#1c1c1c">3</text>
<line x1="586.1" y1="1399" x2="586.1" y2="1402" stroke="#333" stroke-width="0.9"/>
<text x="605.45" y="1417.3" font-size="11.2" fill="#1c1c1c" textLength="11.96" lengthAdjust="spacingAndGlyphs">10</text><text x="617.41" y="1412.82" font-size="6.72" fill="#1c1c1c">4</text>
<line x1="613.3" y1="1399" x2="613.3" y2="1402" stroke="#333" stroke-width="0.9"/>
<text x="632.35" y="1417.3" font-size="11.2" fill="#1c1c1c" textLength="11.96" lengthAdjust="spacingAndGlyphs">10</text><text x="644.31" y="1412.82" font-size="6.72" fill="#1c1c1c">5</text>
<line x1="640.2" y1="1399" x2="640.2" y2="1402" stroke="#333" stroke-width="0.9"/>
<text x="660.85" y="1417.3" font-size="11.2" fill="#1c1c1c" textLength="11.96" lengthAdjust="spacingAndGlyphs">10</text><text x="672.81" y="1412.82" font-size="6.72" fill="#1c1c1c">6</text>
<line x1="668.7" y1="1399" x2="668.7" y2="1402" stroke="#333" stroke-width="0.9"/>
<rect x="586.6" y="1253.2" width="82.7" height="50.5" fill="none" stroke="#000" stroke-width="2.5"/>
<rect x="601.7" y="1320.9" width="67.6" height="29.5" fill="none" stroke="#000" stroke-width="2.5"/>
<line x1="576.4" y1="1257.9" x2="586.6" y2="1257.9" stroke="#000" stroke-width="2.5"/>
<line x1="627" y1="1350.4" x2="627" y2="1363" stroke="#000" stroke-width="2.5"/>
<text x="512.05" y="1262.2" font-size="14.6" textLength="54.61" lengthAdjust="spacingAndGlyphs">0.6659%</text>
<text x="597.1" y="1383" font-size="14.6" textLength="59.4" lengthAdjust="spacingAndGlyphs">0.0805%</text>
<text transform="translate(469.5 1322) rotate(-90)" x="-87.74" y="0" font-size="31" textLength="174.38" lengthAdjust="spacingAndGlyphs">B220 - PeCy5</text>
<text x="471.86" y="1453" font-size="31" textLength="231.5" lengthAdjust="spacingAndGlyphs">3BNC117 - BV421</text>
<g transform="translate(233.9 1538.7)">
<text x="-2.44" y="0" font-size="30" textLength="320.77" lengthAdjust="spacingAndGlyphs">Donor Cells from Donor</text>
<text x="318.33" y="-11.5" font-size="17.5" textLength="47.52" lengthAdjust="spacingAndGlyphs">gRNA</text>
</g>
<line x1="247.9" y1="1557.1" x2="585.6" y2="1557.1" stroke="#000" stroke-width="2.5"/>
<path d="M162.5,1602.5 V1797.8 H373.6" fill="none" stroke="#000" stroke-width="3" stroke-linejoin="miter"/>
<polygon points="162.5,1593.5 169.25,1605.5 155.75,1605.5" fill="#000"/>
<polygon points="382.6,1797.8 370.6,1804.55 370.6,1791.05" fill="#000"/>
<clipPath id="cp8"><rect x="196.5" y="1612.5" width="158.5" height="159"/></clipPath>
<g clip-path="url(#cp8)">
<g filter="url(#stip)"><g transform="translate(196.5 1612.5)"><path d="M-3,17 C25,12 60,11 79,18 C97,26 112,44 117,60 C102,62 86,58 76,56 C50,58 20,56 -3,54Z" fill="#000"/><ellipse cx="51" cy="82" rx="27" ry="31" fill="#000"/><ellipse cx="30" cy="84" rx="37" ry="39" fill="#000" opacity="0.55"/><ellipse cx="46" cy="106" rx="53" ry="42" fill="#000" opacity="0.26"/><ellipse cx="84" cy="62" rx="14" ry="14" fill="#000" opacity="0.7"/><ellipse cx="95" cy="84" rx="16.5" ry="26" fill="#000"/><path d="M85,100 L105,100 L96,136 L91,136Z" fill="#000" opacity="0.85"/><ellipse cx="106" cy="62" rx="16" ry="22" fill="#000" opacity="0.5"/><ellipse cx="98" cy="100" rx="25" ry="45" fill="#000" opacity="0.25"/></g></g>
<g filter="url(#bl1)"><g transform="translate(196.5 1612.5)"><path d="M0,21.5 C25,17.5 58,16.5 75,22.5 C86,28 89,40 80,48.5 C55,52.5 20,50.5 0,48.5Z" fill="#0c1ef2" opacity="0.97"/><ellipse cx="53" cy="80" rx="19" ry="23" fill="#0c1ef2" opacity="0.85"/><ellipse cx="94" cy="84" rx="11.5" ry="20" fill="#0c1ef2" opacity="0.9"/></g></g>
<g filter="url(#bl0)"><g transform="translate(196.5 1612.5)"><ellipse cx="42" cy="42" rx="40" ry="8.5" fill="#1450f6" opacity="0.85"/><ellipse cx="46" cy="42" rx="33" ry="6.8" fill="#1c88f8" opacity="0.9"/><ellipse cx="50" cy="42" rx="25" ry="5.2" fill="#28c4f0" opacity="0.95"/><ellipse cx="55" cy="42" rx="15" ry="3.7" fill="#34e4a0" opacity="0.95"/><ellipse cx="57.5" cy="42" rx="9" ry="2.5" fill="#3af060" opacity="0.95"/><ellipse cx="92" cy="84" rx="6" ry="14" fill="#1450f6" opacity="0.85" transform="rotate(-12 92 84)"/><ellipse cx="92" cy="84" rx="4" ry="10" fill="#1c80f8" opacity="0.9" transform="rotate(-12 92 84)"/><ellipse cx="92" cy="84" rx="2.3" ry="6" fill="#28b0f8" opacity="0.85" transform="rotate(-12 92 84)"/><path d="M0.2,14 h0.9 V62 h-0.9Z" fill="#48d8c0" opacity="0.55"/></g></g>
</g>
<rect x="196.5" y="1612.5" width="158.5" height="159" fill="none" stroke="#8c8c8c" stroke-width="1"/>
<text x="175.5" y="1616.5" font-size="11.2" fill="#1c1c1c" textLength="11.96" lengthAdjust="spacingAndGlyphs">10</text><text x="187.46" y="1612.02" font-size="6.72" fill="#1c1c1c">6</text>
<line x1="193.5" y1="1612.5" x2="196.5" y2="1612.5" stroke="#333" stroke-width="0.9"/>
<text x="175.5" y="1644.2" font-size="11.2" fill="#1c1c1c" textLength="11.96" lengthAdjust="spacingAndGlyphs">10</text><text x="187.46" y="1639.72" font-size="6.72" fill="#1c1c1c">5</text>
<line x1="193.5" y1="1640.2" x2="196.5" y2="1640.2" stroke="#333" stroke-width="0.9"/>
<text x="175.5" y="1671.9" font-size="11.2" fill="#1c1c1c" textLength="11.96" lengthAdjust="spacingAndGlyphs">10</text><text x="187.46" y="1667.42" font-size="6.72" fill="#1c1c1c">4</text>
<line x1="193.5" y1="1667.9" x2="196.5" y2="1667.9" stroke="#333" stroke-width="0.9"/>
<text x="175.5" y="1699.6" font-size="11.2" fill="#1c1c1c" textLength="11.96" lengthAdjust="spacingAndGlyphs">10</text><text x="187.46" y="1695.12" font-size="6.72" fill="#1c1c1c">3</text>
<line x1="193.5" y1="1695.6" x2="196.5" y2="1695.6" stroke="#333" stroke-width="0.9"/>
<text x="175.5" y="1727.3" font-size="11.2" fill="#1c1c1c" textLength="11.96" lengthAdjust="spacingAndGlyphs">10</text><text x="187.46" y="1722.82" font-size="6.72" fill="#1c1c1c">2</text>
<line x1="193.5" y1="1723.3" x2="196.5" y2="1723.3" stroke="#333" stroke-width="0.9"/>
<text x="175.5" y="1755" font-size="11.2" fill="#1c1c1c" textLength="11.96" lengthAdjust="spacingAndGlyphs">10</text><text x="187.46" y="1750.52" font-size="6.72" fill="#1c1c1c">1</text>
<line x1="193.5" y1="1751" x2="196.5" y2="1751" stroke="#333" stroke-width="0.9"/>
<text x="185.08" y="1774" font-size="11.2" fill="#1c1c1c">0</text>
<line x1="193.5" y1="1770" x2="196.5" y2="1770" stroke="#333" stroke-width="0.9"/>
<text x="195.26" y="1789.8" font-size="11.2" fill="#1c1c1c">0</text>
<line x1="198.4" y1="1771.5" x2="198.4" y2="1774.5" stroke="#333" stroke-width="0.9"/>
<text x="210.05" y="1789.8" font-size="11.2" fill="#1c1c1c" textLength="11.96" lengthAdjust="spacingAndGlyphs">10</text><text x="222.01" y="1785.32" font-size="6.72" fill="#1c1c1c">1</text>
<line x1="217.9" y1="1771.5" x2="217.9" y2="1774.5" stroke="#333" stroke-width="0.9"/>
<text x="236.95" y="1789.8" font-size="11.2" fill="#1c1c1c" textLength="11.96" lengthAdjust="spacingAndGlyphs">10</text><text x="248.91" y="1785.32" font-size="6.72" fill="#1c1c1c">2</text>
<line x1="244.8" y1="1771.5" x2="244.8" y2="1774.5" stroke="#333" stroke-width="0.9"/>
<text x="264.35" y="1789.8" font-size="11.2" fill="#1c1c1c" textLength="11.96" lengthAdjust="spacingAndGlyphs">10</text><text x="276.31" y="1785.32" font-size="6.72" fill="#1c1c1c">3</text>
<line x1="272.2" y1="1771.5" x2="272.2" y2="1774.5" stroke="#333" stroke-width="0.9"/>
<text x="291.55" y="1789.8" font-size="11.2" fill="#1c1c1c" textLength="11.96" lengthAdjust="spacingAndGlyphs">10</text><text x="303.51" y="1785.32" font-size="6.72" fill="#1c1c1c">4</text>
<line x1="299.4" y1="1771.5" x2="299.4" y2="1774.5" stroke="#333" stroke-width="0.9"/>
<text x="318.45" y="1789.8" font-size="11.2" fill="#1c1c1c" textLength="11.96" lengthAdjust="spacingAndGlyphs">10</text><text x="330.41" y="1785.32" font-size="6.72" fill="#1c1c1c">5</text>
<line x1="326.3" y1="1771.5" x2="326.3" y2="1774.5" stroke="#333" stroke-width="0.9"/>
<text x="346.95" y="1789.8" font-size="11.2" fill="#1c1c1c" textLength="11.96" lengthAdjust="spacingAndGlyphs">10</text><text x="358.91" y="1785.32" font-size="6.72" fill="#1c1c1c">6</text>
<line x1="354.8" y1="1771.5" x2="354.8" y2="1774.5" stroke="#333" stroke-width="0.9"/>
<rect x="270.1" y="1664.8" width="52.7" height="91.7" fill="none" stroke="#000" stroke-width="2.4"/>
<line x1="316" y1="1653" x2="316" y2="1664.8" stroke="#000" stroke-width="2.4"/>
<text x="295.71" y="1642.2" font-size="15.5" textLength="41.82" lengthAdjust="spacingAndGlyphs">4.03%</text>
<line x1="322.8" y1="1746.1" x2="410.5" y2="1746.1" stroke="#000" stroke-width="2.4"/>
<polygon points="421.3,1746.1 409.3,1753.1 409.3,1739.1" fill="#000"/>
<text transform="translate(153.5 1694.5) rotate(-90)" x="-89.63" y="0" font-size="31" textLength="178.87" lengthAdjust="spacingAndGlyphs">CD45.1 - FITC</text>
<text x="167.83" y="1825.5" font-size="31" textLength="210.21" lengthAdjust="spacingAndGlyphs">CD45.2 - AF700</text>
<path d="M478.8,1603 V1797.8 H690.7" fill="none" stroke="#000" stroke-width="3" stroke-linejoin="miter"/>
<polygon points="478.8,1594 485.55,1606 472.05,1606" fill="#000"/>
<polygon points="699.7,1797.8 687.7,1804.55 687.7,1791.05" fill="#000"/>
<clipPath id="cp9"><rect x="510.4" y="1612.5" width="159" height="159.4"/></clipPath>
<g clip-path="url(#cp9)">
<g filter="url(#stip)"><g transform="translate(510.4 1612.5)"><ellipse cx="61" cy="40" rx="11" ry="10" fill="#000" opacity="0.8"/><ellipse cx="45" cy="40" rx="22" ry="9" fill="#000" opacity="0.4" transform="rotate(10 45 40)"/><path d="M24,97 C40,95 52,90 62,86 C70,83 80,84 82,90 C83,100 76,108 66,107 C52,106 40,100 24,98Z" fill="#000"/><ellipse cx="80" cy="76" rx="10" ry="7" fill="#000" opacity="0.6" transform="rotate(-30 80 76)"/><ellipse cx="70" cy="76" rx="8" ry="12" fill="#000" opacity="0.45"/><ellipse cx="69" cy="118" rx="6" ry="16" fill="#000" opacity="0.3"/><ellipse cx="60" cy="70" rx="36" ry="40" fill="#000" opacity="0.14"/></g></g>
<g filter="url(#bl1)"><g transform="translate(510.4 1612.5)"><path d="M40,96 C50,93 58,89 66,87 C74,85 80,87 80,92 C80,100 74,105 66,105 C56,104 48,100 40,97Z" fill="#0c1ef2" opacity="0.97"/></g></g>
<g filter="url(#bl0)"><g transform="translate(510.4 1612.5)"><ellipse cx="68.5" cy="95" rx="11.5" ry="7" fill="#2fb4f0" opacity="0.97" transform="rotate(-6 68.5 95)"/><ellipse cx="69.5" cy="95" rx="8" ry="5" fill="#28e070" opacity="0.97" transform="rotate(-4 69.5 95)"/><ellipse cx="70.2" cy="95" rx="5.2" ry="3.3" fill="#eef032" opacity="0.97"/><ellipse cx="70.5" cy="95" rx="2.6" ry="1.7" fill="#f0401c"/><path d="M0.2,30 h0.9 V100 h-0.9Z" fill="#48d8c0" opacity="0.55"/></g></g>
</g>
<rect x="510.4" y="1612.5" width="159" height="159.4" fill="none" stroke="#8c8c8c" stroke-width="1"/>
<text x="489.4" y="1616.5" font-size="11.2" fill="#1c1c1c" textLength="11.96" lengthAdjust="spacingAndGlyphs">10</text><text x="501.36" y="1612.02" font-size="6.72" fill="#1c1c1c">6</text>
<line x1="507.4" y1="1612.5" x2="510.4" y2="1612.5" stroke="#333" stroke-width="0.9"/>
<text x="489.4" y="1644.2" font-size="11.2" fill="#1c1c1c" textLength="11.96" lengthAdjust="spacingAndGlyphs">10</text><text x="501.36" y="1639.72" font-size="6.72" fill="#1c1c1c">5</text>
<line x1="507.4" y1="1640.2" x2="510.4" y2="1640.2" stroke="#333" stroke-width="0.9"/>
<text x="489.4" y="1671.9" font-size="11.2" fill="#1c1c1c" textLength="11.96" lengthAdjust="spacingAndGlyphs">10</text><text x="501.36" y="1667.42" font-size="6.72" fill="#1c1c1c">4</text>
<line x1="507.4" y1="1667.9" x2="510.4" y2="1667.9" stroke="#333" stroke-width="0.9"/>
<text x="489.4" y="1699.6" font-size="11.2" fill="#1c1c1c" textLength="11.96" lengthAdjust="spacingAndGlyphs">10</text><text x="501.36" y="1695.12" font-size="6.72" fill="#1c1c1c">3</text>
<line x1="507.4" y1="1695.6" x2="510.4" y2="1695.6" stroke="#333" stroke-width="0.9"/>
<text x="489.4" y="1727.3" font-size="11.2" fill="#1c1c1c" textLength="11.96" lengthAdjust="spacingAndGlyphs">10</text><text x="501.36" y="1722.82" font-size="6.72" fill="#1c1c1c">2</text>
<line x1="507.4" y1="1723.3" x2="510.4" y2="1723.3" stroke="#333" stroke-width="0.9"/>
<text x="489.4" y="1755" font-size="11.2" fill="#1c1c1c" textLength="11.96" lengthAdjust="spacingAndGlyphs">10</text><text x="501.36" y="1750.52" font-size="6.72" fill="#1c1c1c">1</text>
<line x1="507.4" y1="1751" x2="510.4" y2="1751" stroke="#333" stroke-width="0.9"/>
<text x="498.98" y="1774" font-size="11.2" fill="#1c1c1c">0</text>
<line x1="507.4" y1="1770" x2="510.4" y2="1770" stroke="#333" stroke-width="0.9"/>
<text x="509.16" y="1789.8" font-size="11.2" fill="#1c1c1c">0</text>
<line x1="512.3" y1="1771.5" x2="512.3" y2="1774.5" stroke="#333" stroke-width="0.9"/>
<text x="523.95" y="1789.8" font-size="11.2" fill="#1c1c1c" textLength="11.96" lengthAdjust="spacingAndGlyphs">10</text><text x="535.91" y="1785.32" font-size="6.72" fill="#1c1c1c">1</text>
<line x1="531.8" y1="1771.5" x2="531.8" y2="1774.5" stroke="#333" stroke-width="0.9"/>
<text x="550.85" y="1789.8" font-size="11.2" fill="#1c1c1c" textLength="11.96" lengthAdjust="spacingAndGlyphs">10</text><text x="562.81" y="1785.32" font-size="6.72" fill="#1c1c1c">2</text>
<line x1="558.7" y1="1771.5" x2="558.7" y2="1774.5" stroke="#333" stroke-width="0.9"/>
<text x="578.25" y="1789.8" font-size="11.2" fill="#1c1c1c" textLength="11.96" lengthAdjust="spacingAndGlyphs">10</text><text x="590.21" y="1785.32" font-size="6.72" fill="#1c1c1c">3</text>
<line x1="586.1" y1="1771.5" x2="586.1" y2="1774.5" stroke="#333" stroke-width="0.9"/>
<text x="605.45" y="1789.8" font-size="11.2" fill="#1c1c1c" textLength="11.96" lengthAdjust="spacingAndGlyphs">10</text><text x="617.41" y="1785.32" font-size="6.72" fill="#1c1c1c">4</text>
<line x1="613.3" y1="1771.5" x2="613.3" y2="1774.5" stroke="#333" stroke-width="0.9"/>
<text x="632.35" y="1789.8" font-size="11.2" fill="#1c1c1c" textLength="11.96" lengthAdjust="spacingAndGlyphs">10</text><text x="644.31" y="1785.32" font-size="6.72" fill="#1c1c1c">5</text>
<line x1="640.2" y1="1771.5" x2="640.2" y2="1774.5" stroke="#333" stroke-width="0.9"/>
<text x="660.85" y="1789.8" font-size="11.2" fill="#1c1c1c" textLength="11.96" lengthAdjust="spacingAndGlyphs">10</text><text x="672.81" y="1785.32" font-size="6.72" fill="#1c1c1c">6</text>
<line x1="668.7" y1="1771.5" x2="668.7" y2="1774.5" stroke="#333" stroke-width="0.9"/>
<rect x="586.6" y="1625.7" width="82.7" height="50.5" fill="none" stroke="#000" stroke-width="2.5"/>
<rect x="601.7" y="1693.4" width="67.6" height="29.5" fill="none" stroke="#000" stroke-width="2.5"/>
<line x1="576.4" y1="1630.4" x2="586.6" y2="1630.4" stroke="#000" stroke-width="2.5"/>
<line x1="627" y1="1722.9" x2="627" y2="1735.5" stroke="#000" stroke-width="2.5"/>
<text x="512.05" y="1634.7" font-size="14.6" textLength="54.61" lengthAdjust="spacingAndGlyphs">0.0480%</text>
<text x="597.1" y="1755.5" font-size="14.6" textLength="59.4" lengthAdjust="spacingAndGlyphs">0.0607%</text>
<text transform="translate(469.5 1694.5) rotate(-90)" x="-87.74" y="0" font-size="31" textLength="174.38" lengthAdjust="spacingAndGlyphs">B220 - PeCy5</text>
<text x="471.86" y="1825.5" font-size="31" textLength="231.5" lengthAdjust="spacingAndGlyphs">3BNC117 - BV421</text>
<g transform="translate(148.4 1905.2)">
<text x="-2.39" y="0" font-size="30" textLength="377.34" lengthAdjust="spacingAndGlyphs">Donor Cells from CMV-Cas9</text>
<text x="374.95" y="-11.5" font-size="17.5" textLength="46.55" lengthAdjust="spacingAndGlyphs">gRNA</text>
<text x="421.5" y="0" font-size="30" textLength="115.57" lengthAdjust="spacingAndGlyphs" xml:space="preserve"> + Donor</text>
</g>
<line x1="247.9" y1="1923.6" x2="585.6" y2="1923.6" stroke="#000" stroke-width="2.5"/>
<path d="M162.5,1969 V2164.3 H373.6" fill="none" stroke="#000" stroke-width="3" stroke-linejoin="miter"/>
<polygon points="162.5,1960 169.25,1972 155.75,1972" fill="#000"/>
<polygon points="382.6,2164.3 370.6,2171.05 370.6,2157.55" fill="#000"/>
<clipPath id="cp10"><rect x="196.5" y="1979" width="158.5" height="159"/></clipPath>
<g clip-path="url(#cp10)">
<g filter="url(#stip)"><g transform="translate(196.5 1979)"><path d="M-3,17 C25,12 60,11 79,18 C97,26 112,44 117,60 C102,62 86,58 76,56 C50,58 20,56 -3,54Z" fill="#000"/><ellipse cx="51" cy="82" rx="27" ry="31" fill="#000"/><ellipse cx="30" cy="84" rx="37" ry="39" fill="#000" opacity="0.55"/><ellipse cx="46" cy="106" rx="53" ry="42" fill="#000" opacity="0.26"/><ellipse cx="84" cy="62" rx="14" ry="14" fill="#000" opacity="0.7"/><ellipse cx="95" cy="84" rx="16.5" ry="26" fill="#000"/><path d="M85,100 L105,100 L96,136 L91,136Z" fill="#000" opacity="0.85"/><ellipse cx="106" cy="62" rx="16" ry="22" fill="#000" opacity="0.5"/><ellipse cx="98" cy="100" rx="25" ry="45" fill="#000" opacity="0.25"/></g></g>
<g filter="url(#bl1)"><g transform="translate(196.5 1979)"><path d="M0,21.5 C25,17.5 58,16.5 75,22.5 C86,28 89,40 80,48.5 C55,52.5 20,50.5 0,48.5Z" fill="#0c1ef2" opacity="0.97"/><ellipse cx="53" cy="80" rx="19" ry="23" fill="#0c1ef2" opacity="0.85"/><ellipse cx="94" cy="84" rx="11.5" ry="20" fill="#0c1ef2" opacity="0.9"/></g></g>
<g filter="url(#bl0)"><g transform="translate(196.5 1979)"><ellipse cx="42" cy="42" rx="40" ry="8.5" fill="#1450f6" opacity="0.85"/><ellipse cx="46" cy="42" rx="33" ry="6.8" fill="#1c88f8" opacity="0.9"/><ellipse cx="50" cy="42" rx="25" ry="5.2" fill="#28c4f0" opacity="0.95"/><ellipse cx="55" cy="42" rx="15" ry="3.7" fill="#34e4a0" opacity="0.95"/><ellipse cx="57.5" cy="42" rx="9" ry="2.5" fill="#3af060" opacity="0.95"/><ellipse cx="92" cy="84" rx="6" ry="14" fill="#1450f6" opacity="0.85" transform="rotate(-12 92 84)"/><ellipse cx="92" cy="84" rx="4" ry="10" fill="#1c80f8" opacity="0.9" transform="rotate(-12 92 84)"/><ellipse cx="92" cy="84" rx="2.3" ry="6" fill="#28b0f8" opacity="0.85" transform="rotate(-12 92 84)"/><path d="M0.2,14 h0.9 V62 h-0.9Z" fill="#48d8c0" opacity="0.55"/></g></g>
</g>
<rect x="196.5" y="1979" width="158.5" height="159" fill="none" stroke="#8c8c8c" stroke-width="1"/>
<text x="175.5" y="1983" font-size="11.2" fill="#1c1c1c" textLength="11.96" lengthAdjust="spacingAndGlyphs">10</text><text x="187.46" y="1978.52" font-size="6.72" fill="#1c1c1c">6</text>
<line x1="193.5" y1="1979" x2="196.5" y2="1979" stroke="#333" stroke-width="0.9"/>
<text x="175.5" y="2010.7" font-size="11.2" fill="#1c1c1c" textLength="11.96" lengthAdjust="spacingAndGlyphs">10</text><text x="187.46" y="2006.22" font-size="6.72" fill="#1c1c1c">5</text>
<line x1="193.5" y1="2006.7" x2="196.5" y2="2006.7" stroke="#333" stroke-width="0.9"/>
<text x="175.5" y="2038.4" font-size="11.2" fill="#1c1c1c" textLength="11.96" lengthAdjust="spacingAndGlyphs">10</text><text x="187.46" y="2033.92" font-size="6.72" fill="#1c1c1c">4</text>
<line x1="193.5" y1="2034.4" x2="196.5" y2="2034.4" stroke="#333" stroke-width="0.9"/>
<text x="175.5" y="2066.1" font-size="11.2" fill="#1c1c1c" textLength="11.96" lengthAdjust="spacingAndGlyphs">10</text><text x="187.46" y="2061.62" font-size="6.72" fill="#1c1c1c">3</text>
<line x1="193.5" y1="2062.1" x2="196.5" y2="2062.1" stroke="#333" stroke-width="0.9"/>
<text x="175.5" y="2093.8" font-size="11.2" fill="#1c1c1c" textLength="11.96" lengthAdjust="spacingAndGlyphs">10</text><text x="187.46" y="2089.32" font-size="6.72" fill="#1c1c1c">2</text>
<line x1="193.5" y1="2089.8" x2="196.5" y2="2089.8" stroke="#333" stroke-width="0.9"/>
<text x="175.5" y="2121.5" font-size="11.2" fill="#1c1c1c" textLength="11.96" lengthAdjust="spacingAndGlyphs">10</text><text x="187.46" y="2117.02" font-size="6.72" fill="#1c1c1c">1</text>
<line x1="193.5" y1="2117.5" x2="196.5" y2="2117.5" stroke="#333" stroke-width="0.9"/>
<text x="185.08" y="2140.5" font-size="11.2" fill="#1c1c1c">0</text>
<line x1="193.5" y1="2136.5" x2="196.5" y2="2136.5" stroke="#333" stroke-width="0.9"/>
<text x="195.26" y="2156.3" font-size="11.2" fill="#1c1c1c">0</text>
<line x1="198.4" y1="2138" x2="198.4" y2="2141" stroke="#333" stroke-width="0.9"/>
<text x="210.05" y="2156.3" font-size="11.2" fill="#1c1c1c" textLength="11.96" lengthAdjust="spacingAndGlyphs">10</text><text x="222.01" y="2151.82" font-size="6.72" fill="#1c1c1c">1</text>
<line x1="217.9" y1="2138" x2="217.9" y2="2141" stroke="#333" stroke-width="0.9"/>
<text x="236.95" y="2156.3" font-size="11.2" fill="#1c1c1c" textLength="11.96" lengthAdjust="spacingAndGlyphs">10</text><text x="248.91" y="2151.82" font-size="6.72" fill="#1c1c1c">2</text>
<line x1="244.8" y1="2138" x2="244.8" y2="2141" stroke="#333" stroke-width="0.9"/>
<text x="264.35" y="2156.3" font-size="11.2" fill="#1c1c1c" textLength="11.96" lengthAdjust="spacingAndGlyphs">10</text><text x="276.31" y="2151.82" font-size="6.72" fill="#1c1c1c">3</text>
<line x1="272.2" y1="2138" x2="272.2" y2="2141" stroke="#333" stroke-width="0.9"/>
<text x="291.55" y="2156.3" font-size="11.2" fill="#1c1c1c" textLength="11.96" lengthAdjust="spacingAndGlyphs">10</text><text x="303.51" y="2151.82" font-size="6.72" fill="#1c1c1c">4</text>
<line x1="299.4" y1="2138" x2="299.4" y2="2141" stroke="#333" stroke-width="0.9"/>
<text x="318.45" y="2156.3" font-size="11.2" fill="#1c1c1c" textLength="11.96" lengthAdjust="spacingAndGlyphs">10</text><text x="330.41" y="2151.82" font-size="6.72" fill="#1c1c1c">5</text>
<line x1="326.3" y1="2138" x2="326.3" y2="2141" stroke="#333" stroke-width="0.9"/>
<text x="346.95" y="2156.3" font-size="11.2" fill="#1c1c1c" textLength="11.96" lengthAdjust="spacingAndGlyphs">10</text><text x="358.91" y="2151.82" font-size="6.72" fill="#1c1c1c">6</text>
<line x1="354.8" y1="2138" x2="354.8" y2="2141" stroke="#333" stroke-width="0.9"/>
<rect x="270.1" y="2031.3" width="52.7" height="91.7" fill="none" stroke="#000" stroke-width="2.4"/>
<line x1="316" y1="2019.5" x2="316" y2="2031.3" stroke="#000" stroke-width="2.4"/>
<text x="295.41" y="2008.7" font-size="15.5" textLength="42.12" lengthAdjust="spacingAndGlyphs">3.97%</text>
<line x1="322.8" y1="2112.6" x2="410.5" y2="2112.6" stroke="#000" stroke-width="2.4"/>
<polygon points="421.3,2112.6 409.3,2119.6 409.3,2105.6" fill="#000"/>
<text transform="translate(153.5 2061) rotate(-90)" x="-89.63" y="0" font-size="31" textLength="178.87" lengthAdjust="spacingAndGlyphs">CD45.1 - FITC</text>
<text x="167.83" y="2192" font-size="31" textLength="210.21" lengthAdjust="spacingAndGlyphs">CD45.2 - AF700</text>
<path d="M478.8,1969.5 V2164.3 H690.7" fill="none" stroke="#000" stroke-width="3" stroke-linejoin="miter"/>
<polygon points="478.8,1960.5 485.55,1972.5 472.05,1972.5" fill="#000"/>
<polygon points="699.7,2164.3 687.7,2171.05 687.7,2157.55" fill="#000"/>
<clipPath id="cp11"><rect x="510.4" y="1979" width="159" height="159.4"/></clipPath>
<g clip-path="url(#cp11)">
<g filter="url(#stip)"><g transform="translate(510.4 1979)"><path d="M4,44 C20,42 36,34 50,31 C62,29 72,32 72,40 C72,48 64,52 52,51 C36,50 20,47 4,46Z" fill="#000" opacity="0.95"/><path d="M10,98 C30,96 46,91 60,86 C70,83 82,84 84,90 C85,100 78,108 66,108 C50,107 36,102 10,100Z" fill="#000"/><ellipse cx="82" cy="76" rx="10" ry="7" fill="#000" opacity="0.7" transform="rotate(-30 82 76)"/><ellipse cx="72" cy="74" rx="10" ry="13" fill="#000" opacity="0.5"/><ellipse cx="69" cy="120" rx="6" ry="18" fill="#000" opacity="0.32"/><ellipse cx="58" cy="70" rx="40" ry="42" fill="#000" opacity="0.18"/></g></g>
<g filter="url(#bl1)"><g transform="translate(510.4 1979)"><path d="M34,42 C44,38 52,35 60,35 C68,35 70,39 69,43 C68,48 60,49 52,48 C44,47 40,45 34,43Z" fill="#0c1ef2" opacity="0.8"/><path d="M36,97 C48,94 58,89 66,87 C76,85 82,87 82,92 C82,100 76,106 66,106 C54,105 46,101 36,98Z" fill="#0c1ef2" opacity="0.97"/></g></g>
<g filter="url(#bl0)"><g transform="translate(510.4 1979)"><ellipse cx="60" cy="41" rx="7" ry="3.6" fill="#2f8cf5" opacity="0.9" transform="rotate(-6 60 41)"/><ellipse cx="68.5" cy="95.5" rx="12" ry="7.2" fill="#2fb4f0" opacity="0.97" transform="rotate(-6 68.5 95.5)"/><ellipse cx="69.5" cy="95.5" rx="8.5" ry="5.2" fill="#28e070" opacity="0.97" transform="rotate(-4 69.5 95.5)"/><ellipse cx="70.2" cy="95.5" rx="5.6" ry="3.5" fill="#eef032" opacity="0.97"/><ellipse cx="70.6" cy="95.5" rx="2.9" ry="1.9" fill="#f0401c"/><path d="M0.2,34 h0.9 V104 h-0.9Z" fill="#48d8c0" opacity="0.55"/></g></g>
</g>
<rect x="510.4" y="1979" width="159" height="159.4" fill="none" stroke="#8c8c8c" stroke-width="1"/>
<text x="489.4" y="1983" font-size="11.2" fill="#1c1c1c" textLength="11.96" lengthAdjust="spacingAndGlyphs">10</text><text x="501.36" y="1978.52" font-size="6.72" fill="#1c1c1c">6</text>
<line x1="507.4" y1="1979" x2="510.4" y2="1979" stroke="#333" stroke-width="0.9"/>
<text x="489.4" y="2010.7" font-size="11.2" fill="#1c1c1c" textLength="11.96" lengthAdjust="spacingAndGlyphs">10</text><text x="501.36" y="2006.22" font-size="6.72" fill="#1c1c1c">5</text>
<line x1="507.4" y1="2006.7" x2="510.4" y2="2006.7" stroke="#333" stroke-width="0.9"/>
<text x="489.4" y="2038.4" font-size="11.2" fill="#1c1c1c" textLength="11.96" lengthAdjust="spacingAndGlyphs">10</text><text x="501.36" y="2033.92" font-size="6.72" fill="#1c1c1c">4</text>
<line x1="507.4" y1="2034.4" x2="510.4" y2="2034.4" stroke="#333" stroke-width="0.9"/>
<text x="489.4" y="2066.1" font-size="11.2" fill="#1c1c1c" textLength="11.96" lengthAdjust="spacingAndGlyphs">10</text><text x="501.36" y="2061.62" font-size="6.72" fill="#1c1c1c">3</text>
<line x1="507.4" y1="2062.1" x2="510.4" y2="2062.1" stroke="#333" stroke-width="0.9"/>
<text x="489.4" y="2093.8" font-size="11.2" fill="#1c1c1c" textLength="11.96" lengthAdjust="spacingAndGlyphs">10</text><text x="501.36" y="2089.32" font-size="6.72" fill="#1c1c1c">2</text>
<line x1="507.4" y1="2089.8" x2="510.4" y2="2089.8" stroke="#333" stroke-width="0.9"/>
<text x="489.4" y="2121.5" font-size="11.2" fill="#1c1c1c" textLength="11.96" lengthAdjust="spacingAndGlyphs">10</text><text x="501.36" y="2117.02" font-size="6.72" fill="#1c1c1c">1</text>
<line x1="507.4" y1="2117.5" x2="510.4" y2="2117.5" stroke="#333" stroke-width="0.9"/>
<text x="498.98" y="2140.5" font-size="11.2" fill="#1c1c1c">0</text>
<line x1="507.4" y1="2136.5" x2="510.4" y2="2136.5" stroke="#333" stroke-width="0.9"/>
<text x="509.16" y="2156.3" font-size="11.2" fill="#1c1c1c">0</text>
<line x1="512.3" y1="2138" x2="512.3" y2="2141" stroke="#333" stroke-width="0.9"/>
<text x="523.95" y="2156.3" font-size="11.2" fill="#1c1c1c" textLength="11.96" lengthAdjust="spacingAndGlyphs">10</text><text x="535.91" y="2151.82" font-size="6.72" fill="#1c1c1c">1</text>
<line x1="531.8" y1="2138" x2="531.8" y2="2141" stroke="#333" stroke-width="0.9"/>
<text x="550.85" y="2156.3" font-size="11.2" fill="#1c1c1c" textLength="11.96" lengthAdjust="spacingAndGlyphs">10</text><text x="562.81" y="2151.82" font-size="6.72" fill="#1c1c1c">2</text>
<line x1="558.7" y1="2138" x2="558.7" y2="2141" stroke="#333" stroke-width="0.9"/>
<text x="578.25" y="2156.3" font-size="11.2" fill="#1c1c1c" textLength="11.96" lengthAdjust="spacingAndGlyphs">10</text><text x="590.21" y="2151.82" font-size="6.72" fill="#1c1c1c">3</text>
<line x1="586.1" y1="2138" x2="586.1" y2="2141" stroke="#333" stroke-width="0.9"/>
<text x="605.45" y="2156.3" font-size="11.2" fill="#1c1c1c" textLength="11.96" lengthAdjust="spacingAndGlyphs">10</text><text x="617.41" y="2151.82" font-size="6.72" fill="#1c1c1c">4</text>
<line x1="613.3" y1="2138" x2="613.3" y2="2141" stroke="#333" stroke-width="0.9"/>
<text x="632.35" y="2156.3" font-size="11.2" fill="#1c1c1c" textLength="11.96" lengthAdjust="spacingAndGlyphs">10</text><text x="644.31" y="2151.82" font-size="6.72" fill="#1c1c1c">5</text>
<line x1="640.2" y1="2138" x2="640.2" y2="2141" stroke="#333" stroke-width="0.9"/>
<text x="660.85" y="2156.3" font-size="11.2" fill="#1c1c1c" textLength="11.96" lengthAdjust="spacingAndGlyphs">10</text><text x="672.81" y="2151.82" font-size="6.72" fill="#1c1c1c">6</text>
<line x1="668.7" y1="2138" x2="668.7" y2="2141" stroke="#333" stroke-width="0.9"/>
<rect x="586.6" y="1992.2" width="82.7" height="50.5" fill="none" stroke="#000" stroke-width="2.5"/>
<rect x="601.7" y="2059.9" width="67.6" height="29.5" fill="none" stroke="#000" stroke-width="2.5"/>
<line x1="576.4" y1="1996.9" x2="586.6" y2="1996.9" stroke="#000" stroke-width="2.5"/>
<line x1="627" y1="2089.4" x2="627" y2="2102" stroke="#000" stroke-width="2.5"/>
<text x="515.85" y="2001.2" font-size="14.6" textLength="47.04" lengthAdjust="spacingAndGlyphs">0.132%</text>
<text x="597.1" y="2122" font-size="14.6" textLength="59.4" lengthAdjust="spacingAndGlyphs">0.0978%</text>
<text transform="translate(469.5 2061) rotate(-90)" x="-87.74" y="0" font-size="31" textLength="174.38" lengthAdjust="spacingAndGlyphs">B220 - PeCy5</text>
<text x="471.86" y="2192" font-size="31" textLength="231.5" lengthAdjust="spacingAndGlyphs">3BNC117 - BV421</text>
<line x1="93.7" y1="972.9" x2="93.7" y2="1324.5" stroke="#000" stroke-width="2.5"/>
<line x1="93.7" y1="1709.6" x2="93.7" y2="2063.3" stroke="#000" stroke-width="2.5"/>
<text transform="translate(61.2 1149.3) rotate(-90)" x="-67.1" y="0" font-size="48" textLength="135.02" lengthAdjust="spacingAndGlyphs">Spleen</text>
<text transform="translate(61 1885.8) rotate(-90)" x="-134.06" y="0" font-size="48" textLength="264.43" lengthAdjust="spacingAndGlyphs">Bone Marrow</text>
<text transform="translate(752.8 888.3) scale(0.7242 1)" font-size="87.65">E</text>
<text x="1001.11" y="892.5" font-size="21">ns</text>
<path d="M938.6,922.9 V906.8 H1086 V922.9" fill="none" stroke="#000" stroke-width="2.4"/>
<text x="946.11" y="951.4" font-size="21">ns</text>
<path d="M883.2,981.8 V965.7 H1030.7 V981.8" fill="none" stroke="#000" stroke-width="2.4"/>
<rect x="865.6" y="1184.3" width="36" height="64.6" fill="#bdbef6" stroke="#000" stroke-width="2.6"/>
<rect x="920.9" y="1096.8" width="35.3" height="152.1" fill="#ecc9f4" stroke="#000" stroke-width="2.6"/>
<rect x="1013.1" y="1184.6" width="35.3" height="64.3" fill="#bdbef6" stroke="#000" stroke-width="2.6"/>
<rect x="1068.4" y="1165" width="35.3" height="83.9" fill="#ecc9f4" stroke="#000" stroke-width="2.6"/>
<line x1="846.8" y1="971.6" x2="846.8" y2="1250.2" stroke="#000" stroke-width="2.6"/>
<line x1="835" y1="1248.9" x2="1124.3" y2="1248.9" stroke="#000" stroke-width="2.6"/>
<line x1="835" y1="972.9" x2="846.8" y2="972.9" stroke="#000" stroke-width="2.6"/>
<text x="820.74" y="980.1" font-size="20.5" font-weight="bold">8</text>
<line x1="835" y1="1041.8" x2="846.8" y2="1041.8" stroke="#000" stroke-width="2.6"/>
<text x="820.84" y="1049" font-size="20.5" font-weight="bold">6</text>
<line x1="835" y1="1111" x2="846.8" y2="1111" stroke="#000" stroke-width="2.6"/>
<text x="820.23" y="1118.2" font-size="20.5" font-weight="bold">4</text>
<line x1="835" y1="1180" x2="846.8" y2="1180" stroke="#000" stroke-width="2.6"/>
<text x="820.94" y="1187.2" font-size="20.5" font-weight="bold">2</text>
<line x1="835" y1="1248.9" x2="846.8" y2="1248.9" stroke="#000" stroke-width="2.6"/>
<text x="820.94" y="1256.1" font-size="20.5" font-weight="bold">0</text>
<line x1="910.7" y1="1248.9" x2="910.7" y2="1260.4" stroke="#000" stroke-width="2.6"/>
<line x1="1058.6" y1="1248.9" x2="1058.6" y2="1260.4" stroke="#000" stroke-width="2.6"/>
<text transform="translate(805.5 1111) rotate(-90)" x="-48.06" y="0" font-size="22" font-weight="bold" textLength="96.46" lengthAdjust="spacingAndGlyphs">%CD45.2</text>
<circle cx="883.2" cy="1169.3" r="5.6" fill="#fff" stroke="#000" stroke-width="2.6"/>
<circle cx="883.2" cy="1183.6" r="5.6" fill="#fff" stroke="#000" stroke-width="2.6"/>
<circle cx="883.2" cy="1197.1" r="5.6" fill="#fff" stroke="#000" stroke-width="2.6"/>
<circle cx="938.6" cy="998.6" r="5.6" fill="#fff" stroke="#000" stroke-width="2.6"/>
<circle cx="938.6" cy="1110.4" r="5.6" fill="#fff" stroke="#000" stroke-width="2.6"/>
<circle cx="938.6" cy="1177.5" r="5.6" fill="#fff" stroke="#000" stroke-width="2.6"/>
<circle cx="1017.9" cy="1184.6" r="5.6" fill="#fff" stroke="#000" stroke-width="2.6"/>
<circle cx="1030.7" cy="1180" r="5.6" fill="#fff" stroke="#000" stroke-width="2.6"/>
<circle cx="1043.9" cy="1180.7" r="5.6" fill="#fff" stroke="#000" stroke-width="2.6"/>
<circle cx="1086" cy="1112.9" r="5.6" fill="#fff" stroke="#000" stroke-width="2.6"/>
<circle cx="1086" cy="1151.4" r="5.6" fill="#fff" stroke="#000" stroke-width="2.6"/>
<circle cx="1086" cy="1230" r="5.6" fill="#fff" stroke="#000" stroke-width="2.6"/>
<rect x="1122" y="1083.2" width="27" height="12.8" fill="#bdbef6" stroke="#000" stroke-width="2.4"/>
<rect x="1122" y="1120.6" width="27" height="12.8" fill="#ecc9f4" stroke="#000" stroke-width="2.4"/>
<text x="1167.21" y="1096.8" font-size="22">Spleen</text>
<text x="1166.44" y="1134.3" font-size="22">BM</text>
<g transform="translate(917 1280) rotate(-45)">
<text x="-102.1" y="0" font-size="19.5" font-weight="bold">Donor</text>
<text x="-44.69" y="-7.99" font-size="16.77">gRNA</text>
</g>
<g transform="translate(1065 1279.2) rotate(-45)">
<text x="-221.31" y="0" font-size="19.5" font-weight="bold" textLength="98.62" lengthAdjust="spacingAndGlyphs">CMV-Cas9</text>
<text x="-122.69" y="-7.99" font-size="16.77" textLength="46.26" lengthAdjust="spacingAndGlyphs">gRNA</text>
<text x="-76.43" y="0" font-size="19.5" font-weight="bold" textLength="76.74" lengthAdjust="spacingAndGlyphs">+ Donor</text>
</g>
<text transform="translate(1260.78 888.2) scale(0.7651 1)" font-size="87.94">F</text>
<text x="1538.61" y="969.3" font-size="21">ns</text>
<path d="M1475.7,999.6 V983.6 H1623.6 V999.6" fill="none" stroke="#000" stroke-width="2.4"/>
<text x="1483.21" y="1028" font-size="21">ns</text>
<path d="M1420.4,1058.6 V1042.5 H1567.9 V1058.6" fill="none" stroke="#000" stroke-width="2.4"/>
<line x1="1383.9" y1="977.3" x2="1383.9" y2="1256.2" stroke="#000" stroke-width="2.6"/>
<line x1="1371.4" y1="1255" x2="1661.4" y2="1255" stroke="#000" stroke-width="2.6"/>
<line x1="1371.4" y1="978.6" x2="1383.9" y2="978.6" stroke="#000" stroke-width="2.6"/>
<text x="1339.92" y="985.8" font-size="20.5" font-weight="bold">1.5</text>
<line x1="1371.4" y1="1070.7" x2="1383.9" y2="1070.7" stroke="#000" stroke-width="2.6"/>
<text x="1340.23" y="1077.9" font-size="20.5" font-weight="bold">1.0</text>
<line x1="1371.4" y1="1162.8" x2="1383.9" y2="1162.8" stroke="#000" stroke-width="2.6"/>
<text x="1339.92" y="1170" font-size="20.5" font-weight="bold">0.5</text>
<line x1="1371.4" y1="1254.9" x2="1383.9" y2="1254.9" stroke="#000" stroke-width="2.6"/>
<text x="1340.23" y="1262.1" font-size="20.5" font-weight="bold">0.0</text>
<line x1="1448.2" y1="1255" x2="1448.2" y2="1266.4" stroke="#000" stroke-width="2.6"/>
<line x1="1595.7" y1="1255" x2="1595.7" y2="1266.4" stroke="#000" stroke-width="2.6"/>
<text transform="translate(1324.5 1114.3) rotate(-90)" x="-114.58" y="0" font-size="22" font-weight="bold" textLength="229.93" lengthAdjust="spacingAndGlyphs">%3BNC117 in Spleen</text>
<line x1="1401.8" y1="1156.8" x2="1429" y2="1156.8" stroke="#000" stroke-width="2.4"/>
<line x1="1555.4" y1="1133.6" x2="1581" y2="1133.6" stroke="#000" stroke-width="2.4"/>
<circle cx="1407.1" cy="1146.8" r="5.8" fill="#c6ecc8" stroke="#000" stroke-width="2.6"/>
<circle cx="1433.9" cy="1156.8" r="5.8" fill="#c6ecc8" stroke="#000" stroke-width="2.6"/>
<circle cx="1420.4" cy="1168.6" r="5.8" fill="#c6ecc8" stroke="#000" stroke-width="2.6"/>
<circle cx="1567.9" cy="1074.6" r="5.8" fill="#c6ecc8" stroke="#000" stroke-width="2.6"/>
<circle cx="1555.4" cy="1134.6" r="5.8" fill="#c6ecc8" stroke="#000" stroke-width="2.6"/>
<circle cx="1581" cy="1132.9" r="5.8" fill="#c6ecc8" stroke="#000" stroke-width="2.6"/>
<circle cx="1463.2" cy="1246" r="5.8" fill="#fcdcc2" stroke="#000" stroke-width="2.6"/>
<circle cx="1475.7" cy="1241.4" r="5.8" fill="#fcdcc2" stroke="#000" stroke-width="2.6"/>
<circle cx="1489.3" cy="1243.2" r="5.8" fill="#fcdcc2" stroke="#000" stroke-width="2.6"/>
<circle cx="1610.7" cy="1243.6" r="5.8" fill="#fcdcc2" stroke="#000" stroke-width="2.6"/>
<circle cx="1623.6" cy="1240.7" r="5.8" fill="#fcdcc2" stroke="#000" stroke-width="2.6"/>
<circle cx="1636.4" cy="1242.5" r="5.8" fill="#fcdcc2" stroke="#000" stroke-width="2.6"/>
<g transform="translate(1454.5 1285.7) rotate(-45)">
<text x="-102.1" y="0" font-size="19.5" font-weight="bold">Donor</text>
<text x="-44.69" y="-7.99" font-size="16.77">gRNA</text>
</g>
<g transform="translate(1602.1 1285.3) rotate(-45)">
<text x="-221.31" y="0" font-size="19.5" font-weight="bold" textLength="98.62" lengthAdjust="spacingAndGlyphs">CMV-Cas9</text>
<text x="-122.69" y="-7.99" font-size="16.77" textLength="46.26" lengthAdjust="spacingAndGlyphs">gRNA</text>
<text x="-76.43" y="0" font-size="19.5" font-weight="bold" textLength="76.74" lengthAdjust="spacingAndGlyphs">+ Donor</text>
</g>
<text transform="translate(1675.05 887.92) scale(0.8796 1)" font-size="87.57">G</text>
<text x="1925.41" y="887" font-size="21">ns</text>
<path d="M1862,917.5 V902 H2010 V917.5" fill="none" stroke="#000" stroke-width="2.4"/>
<text x="1870.01" y="946" font-size="21">ns</text>
<path d="M1807,976.4 V961.4 H1954.6 V976.4" fill="none" stroke="#000" stroke-width="2.4"/>
<line x1="1770" y1="977.3" x2="1770" y2="1256.2" stroke="#000" stroke-width="2.6"/>
<line x1="1758" y1="1255" x2="2048" y2="1255" stroke="#000" stroke-width="2.6"/>
<line x1="1758" y1="978.6" x2="1770" y2="978.6" stroke="#000" stroke-width="2.6"/>
<text x="1726.72" y="985.8" font-size="20.5" font-weight="bold">0.3</text>
<line x1="1758" y1="1070.7" x2="1770" y2="1070.7" stroke="#000" stroke-width="2.6"/>
<text x="1726.83" y="1077.9" font-size="20.5" font-weight="bold">0.2</text>
<line x1="1758" y1="1162.8" x2="1770" y2="1162.8" stroke="#000" stroke-width="2.6"/>
<text x="1726.52" y="1170" font-size="20.5" font-weight="bold">0.1</text>
<line x1="1758" y1="1254.9" x2="1770" y2="1254.9" stroke="#000" stroke-width="2.6"/>
<text x="1726.83" y="1262.1" font-size="20.5" font-weight="bold">0.0</text>
<line x1="1834.3" y1="1255" x2="1834.3" y2="1266.4" stroke="#000" stroke-width="2.6"/>
<line x1="1982" y1="1255" x2="1982" y2="1266.4" stroke="#000" stroke-width="2.6"/>
<text transform="translate(1711.5 1115.7) rotate(-90)" x="-102.33" y="0" font-size="22" font-weight="bold" textLength="205.69" lengthAdjust="spacingAndGlyphs">%3BNC117+ in BM</text>
<line x1="1788.6" y1="1202.5" x2="1826" y2="1202.5" stroke="#000" stroke-width="2.4"/>
<line x1="1844" y1="1199" x2="1880.7" y2="1199" stroke="#000" stroke-width="2.4"/>
<line x1="1935.7" y1="1085.4" x2="1973.2" y2="1085.4" stroke="#000" stroke-width="2.4"/>
<line x1="1991" y1="1132" x2="2027.9" y2="1132" stroke="#000" stroke-width="2.4"/>
<circle cx="1807.5" cy="1182.5" r="5.8" fill="#c6ecc8" stroke="#000" stroke-width="2.6"/>
<circle cx="1820" cy="1202.5" r="5.8" fill="#c6ecc8" stroke="#000" stroke-width="2.6"/>
<circle cx="1794" cy="1211" r="5.8" fill="#c6ecc8" stroke="#000" stroke-width="2.6"/>
<circle cx="1954.6" cy="992.9" r="5.8" fill="#c6ecc8" stroke="#000" stroke-width="2.6"/>
<circle cx="1954.6" cy="1085.4" r="5.8" fill="#c6ecc8" stroke="#000" stroke-width="2.6"/>
<circle cx="1954.6" cy="1134" r="5.8" fill="#c6ecc8" stroke="#000" stroke-width="2.6"/>
<circle cx="1862.5" cy="1177.5" r="5.8" fill="#fcdcc2" stroke="#000" stroke-width="2.6"/>
<circle cx="1862.5" cy="1199" r="5.8" fill="#fcdcc2" stroke="#000" stroke-width="2.6"/>
<circle cx="1862.5" cy="1212" r="5.8" fill="#fcdcc2" stroke="#000" stroke-width="2.6"/>
<circle cx="2010" cy="1036.4" r="5.8" fill="#fcdcc2" stroke="#000" stroke-width="2.6"/>
<circle cx="2010" cy="1132" r="5.8" fill="#fcdcc2" stroke="#000" stroke-width="2.6"/>
<circle cx="2010" cy="1165" r="5.8" fill="#fcdcc2" stroke="#000" stroke-width="2.6"/>
<circle cx="2073.6" cy="1162" r="5.8" fill="#c6ecc8" stroke="#000" stroke-width="2.6"/>
<circle cx="2111" cy="1162" r="5.8" fill="#fcdcc2" stroke="#000" stroke-width="2.6"/>
<text transform="translate(2081.3 1128.5) rotate(-90)" x="-1.64" y="0" font-size="20.5">B220+</text>
<text transform="translate(2119 1128.5) rotate(-90)" x="-1.64" y="0" font-size="20.5">B220-</text>
<g transform="translate(1840.6 1285.7) rotate(-45)">
<text x="-102.1" y="0" font-size="19.5" font-weight="bold">Donor</text>
<text x="-44.69" y="-7.99" font-size="16.77">gRNA</text>
</g>
<g transform="translate(1988.4 1285.3) rotate(-45)">
<text x="-221.31" y="0" font-size="19.5" font-weight="bold" textLength="98.62" lengthAdjust="spacingAndGlyphs">CMV-Cas9</text>
<text x="-122.69" y="-7.99" font-size="16.77" textLength="46.26" lengthAdjust="spacingAndGlyphs">gRNA</text>
<text x="-76.43" y="0" font-size="19.5" font-weight="bold" textLength="76.74" lengthAdjust="spacingAndGlyphs">+ Donor</text>
</g>
<text transform="translate(751.55 1577.8) scale(0.9170 1)" font-size="88.37">H</text>
<line x1="884.5" y1="1601.5" x2="884.5" y2="2139" stroke="#000" stroke-width="2.9"/>
<line x1="871.9" y1="2137.5" x2="1129.7" y2="2137.5" stroke="#000" stroke-width="2.9"/>
<line x1="871.9" y1="1602.9" x2="884.7" y2="1602.9" stroke="#000" stroke-width="2.6"/>
<text x="831.5" y="1609.1" font-size="17.3" font-weight="bold">1000</text>
<line x1="871.9" y1="1710.4" x2="884.7" y2="1710.4" stroke="#000" stroke-width="2.6"/>
<text x="841.19" y="1716.6" font-size="17.3" font-weight="bold">800</text>
<line x1="871.9" y1="1816.8" x2="884.7" y2="1816.8" stroke="#000" stroke-width="2.6"/>
<text x="841.19" y="1823" font-size="17.3" font-weight="bold">600</text>
<line x1="871.9" y1="1923.9" x2="884.7" y2="1923.9" stroke="#000" stroke-width="2.6"/>
<text x="841.19" y="1930.1" font-size="17.3" font-weight="bold">400</text>
<line x1="871.9" y1="2030.3" x2="884.7" y2="2030.3" stroke="#000" stroke-width="2.6"/>
<text x="841.19" y="2036.5" font-size="17.3" font-weight="bold">200</text>
<line x1="871.9" y1="2137.4" x2="884.7" y2="2137.4" stroke="#000" stroke-width="2.6"/>
<text x="860.39" y="2143.6" font-size="17.3" font-weight="bold">0</text>
<line x1="877.4" y1="1656.65" x2="884.7" y2="1656.65" stroke="#000" stroke-width="2.4"/>
<line x1="877.4" y1="1763.6" x2="884.7" y2="1763.6" stroke="#000" stroke-width="2.4"/>
<line x1="877.4" y1="1870.35" x2="884.7" y2="1870.35" stroke="#000" stroke-width="2.4"/>
<line x1="877.4" y1="1977.1" x2="884.7" y2="1977.1" stroke="#000" stroke-width="2.4"/>
<line x1="877.4" y1="2083.85" x2="884.7" y2="2083.85" stroke="#000" stroke-width="2.4"/>
<line x1="945.3" y1="2137.4" x2="945.3" y2="2149.5" stroke="#000" stroke-width="2.6"/>
<text x="935.74" y="2167.8" font-size="17.3" font-weight="bold">22</text>
<line x1="1066.3" y1="2137.4" x2="1066.3" y2="2149.5" stroke="#000" stroke-width="2.6"/>
<text x="1056.83" y="2167.8" font-size="17.3" font-weight="bold">37</text>
<text transform="translate(816 1869) rotate(-90)" x="-165.77" y="0" font-size="29.3" font-weight="bold" textLength="332.18" lengthAdjust="spacingAndGlyphs">3BNC117 conc. (ng/ml)</text>
<line x1="945.3" y1="2123" x2="1066.3" y2="2083.4" stroke="#a01212" stroke-width="2.6"/>
<line x1="945.3" y1="2124" x2="1066.3" y2="2091.9" stroke="#a01212" stroke-width="2.6"/>
<line x1="945.3" y1="2136.6" x2="1066.3" y2="2100" stroke="#a01212" stroke-width="2.6"/>
<line x1="945.3" y1="2083.4" x2="1066.3" y2="2080.9" stroke="#1f9dba" stroke-width="2.6"/>
<line x1="945.3" y1="2104.7" x2="1066.3" y2="2081.5" stroke="#1f9dba" stroke-width="2.6"/>
<line x1="945.3" y1="2119.4" x2="1066.3" y2="2114.6" stroke="#1f9dba" stroke-width="2.6"/>
<circle cx="945.3" cy="2123.8" r="5.4" fill="#a01212" stroke="#000" stroke-width="2.4"/>
<circle cx="945.3" cy="2136.6" r="5.4" fill="#a01212" stroke="#000" stroke-width="2.4"/>
<circle cx="1066.3" cy="2091.9" r="5.4" fill="#a01212" stroke="#000" stroke-width="2.4"/>
<circle cx="1066.3" cy="2100" r="5.4" fill="#a01212" stroke="#000" stroke-width="2.4"/>
<polygon points="945.3,2075.8 952.9,2083.4 945.3,2091 937.7,2083.4" fill="#1f9dba" stroke="#000" stroke-width="2.4" stroke-linejoin="round"/>
<polygon points="945.3,2097.1 952.9,2104.7 945.3,2112.3 937.7,2104.7" fill="#1f9dba" stroke="#000" stroke-width="2.4" stroke-linejoin="round"/>
<polygon points="945.3,2111.8 952.9,2119.4 945.3,2127 937.7,2119.4" fill="#1f9dba" stroke="#000" stroke-width="2.4" stroke-linejoin="round"/>
<polygon points="1066.3,2073.3 1073.9,2080.9 1066.3,2088.5 1058.7,2080.9" fill="#1f9dba" stroke="#000" stroke-width="2.4" stroke-linejoin="round"/>
<polygon points="1066.3,2107 1073.9,2114.6 1066.3,2122.2 1058.7,2114.6" fill="#1f9dba" stroke="#000" stroke-width="2.4" stroke-linejoin="round"/>
<line x1="1148.1" y1="1997" x2="1148.1" y2="2017" stroke="#a01212" stroke-width="2.2"/>
<circle cx="1148.1" cy="2005.3" r="5.4" fill="#a01212" stroke="#000" stroke-width="2.4"/>
<line x1="1187.4" y1="1997" x2="1187.4" y2="2017" stroke="#1f9dba" stroke-width="2.2"/>
<polygon points="1187.4,1997.7 1195,2005.3 1187.4,2012.9 1179.8,2005.3" fill="#1f9dba" stroke="#000" stroke-width="2.4" stroke-linejoin="round"/>
<g transform="translate(1158 1977) rotate(-90)">
<text x="-1.48" y="0" font-size="18.5">Donor</text>
<text x="48.91" y="-6.5" font-size="15.5">gRNA</text>
</g>
<g transform="translate(1197.6 1977) rotate(-90)">
<text x="-0.97" y="0" font-size="18.5" textLength="93.42" lengthAdjust="spacingAndGlyphs">CMV-Cas9</text>
<text x="92.46" y="-6.5" font-size="15.5" textLength="43.19" lengthAdjust="spacingAndGlyphs">gRNA</text>
<text x="135.65" y="0" font-size="18.5" textLength="74.66" lengthAdjust="spacingAndGlyphs" xml:space="preserve"> + Donor</text>
</g>
<text x="1163.76" y="1728.7" font-size="18.5">ns</text>
<path d="M1153.6,1754.4 V1741 H1194 V1754.4" fill="none" stroke="#000" stroke-width="2.4"/>
<text transform="translate(1258.57 1565.7) scale(0.9799 1)" font-size="87.94">I</text>
<text transform="translate(1344.6 1883.5) rotate(-90)" x="-115.9" y="0" font-size="29.4" textLength="231.37" lengthAdjust="spacingAndGlyphs">Donor cells origin</text>
<g transform="translate(1397.8 1826) rotate(-90)">
<text x="-1.75" y="0" font-size="20.5" textLength="59.48" lengthAdjust="spacingAndGlyphs">Donor</text>
<text x="57.74" y="-7.5" font-size="17" textLength="48.31" lengthAdjust="spacingAndGlyphs">gRNA</text>
</g>
<g transform="translate(1397.8 2068.8) rotate(-90)">
<text x="-1.09" y="0" font-size="20.5" textLength="105.06" lengthAdjust="spacingAndGlyphs">CMV-Cas9</text>
<text x="103.97" y="-7.5" font-size="17" textLength="48.07" lengthAdjust="spacingAndGlyphs">gRNA</text>
</g>
<text transform="translate(1425 2063.3) rotate(-90)" x="-1.15" y="0" font-size="20.5" textLength="82.2" lengthAdjust="spacingAndGlyphs">+ Donor</text>
<clipPath id="wc0"><rect x="1446.3" y="1672.6" width="202.7" height="202.4"/></clipPath>
<g clip-path="url(#wc0)">
<rect x="1446.3" y="1672.6" width="202.7" height="202.4" fill="url(#wellbg)"/>
<g filter="url(#wbl)">
<circle cx="1544.3" cy="1776.6" r="106" fill="none" stroke="#d2dde2" stroke-width="9"/>
<ellipse cx="1632" cy="1685.6" rx="6" ry="13" fill="#3f4648" transform="rotate(-42 1632 1685.6)"/>
<circle cx="1446.3" cy="1875" r="9" fill="#5a6366"/>
<circle cx="1446.3" cy="1672.6" r="7" fill="#9aa4a8"/>
<circle cx="1649" cy="1875" r="7" fill="#9aa4a8"/>
</g>
<circle cx="1547.3" cy="1772.6" r="92" fill="#f5f5f4" filter="url(#wbl2)"/>
<ellipse cx="1545.3" cy="1778.6" rx="66" ry="58" fill="url(#wellpk)"/>
</g>
<clipPath id="wc1"><rect x="1446.3" y="1892" width="202.7" height="202.5"/></clipPath>
<g clip-path="url(#wc1)">
<rect x="1446.3" y="1892" width="202.7" height="202.5" fill="url(#wellbg)"/>
<g filter="url(#wbl)">
<circle cx="1544.3" cy="1986" r="106" fill="none" stroke="#d2dde2" stroke-width="9"/>
<ellipse cx="1472.3" cy="2059.5" rx="5.5" ry="13" fill="#5a6265" transform="rotate(-42 1472.3 2059.5)"/>
<circle cx="1450.3" cy="2090.5" r="13" fill="#6a7376"/>
<circle cx="1649" cy="2094.5" r="8" fill="#9aa4a8"/>
<circle cx="1649" cy="1892" r="6" fill="#aab3b6"/>
</g>
<circle cx="1547.3" cy="1990" r="92" fill="#f5f5f4" filter="url(#wbl2)"/>
<ellipse cx="1545.3" cy="1996" rx="66" ry="58" fill="url(#wellpk)"/>
</g>
<text transform="translate(1687.13 1577.91) scale(0.7520 1)" font-size="88.54">J</text>
<line x1="1896.4" y1="1615" x2="1896.4" y2="1960.4" stroke="#000" stroke-width="2.8"/>
<line x1="1881.8" y1="1959" x2="2126" y2="1959" stroke="#000" stroke-width="2.8"/>
<line x1="1881.8" y1="1616.4" x2="1896.4" y2="1616.4" stroke="#000" stroke-width="2.8"/>
<text x="1799.09" y="1625.6" font-size="26" font-weight="bold">0.0015</text>
<line x1="1881.8" y1="1730.6" x2="1896.4" y2="1730.6" stroke="#000" stroke-width="2.8"/>
<text x="1799.48" y="1739.8" font-size="26" font-weight="bold">0.0010</text>
<line x1="1881.8" y1="1844.8" x2="1896.4" y2="1844.8" stroke="#000" stroke-width="2.8"/>
<text x="1799.09" y="1854" font-size="26" font-weight="bold">0.0005</text>
<line x1="1881.8" y1="1959" x2="1896.4" y2="1959" stroke="#000" stroke-width="2.8"/>
<text x="1799.48" y="1968.2" font-size="26" font-weight="bold">0.0000</text>
<line x1="1959.9" y1="1959" x2="1959.9" y2="1972" stroke="#000" stroke-width="2.8"/>
<line x1="2058.9" y1="1959" x2="2058.9" y2="1972" stroke="#000" stroke-width="2.8"/>
<text transform="translate(1781.5 1783.6) rotate(-90)" x="-177.71" y="0" font-size="28.3" font-weight="bold" textLength="355.9" lengthAdjust="spacingAndGlyphs">%3BNC117 secreting cells</text>
<text x="1995.9" y="1634" font-size="26">ns</text>
<path d="M1959.9,1671.5 V1651.3 H2058.9 V1671.5" fill="none" stroke="#000" stroke-width="2.6"/>
<line x1="1928.7" y1="1768.7" x2="1993" y2="1768.7" stroke="#000" stroke-width="2.6"/>
<line x1="2026.7" y1="1854.9" x2="2090.9" y2="1854.9" stroke="#000" stroke-width="2.6"/>
<polygon points="1968,1692 1964.3,1698.41 1956.9,1698.41 1953.2,1692 1956.9,1685.59 1964.3,1685.59" fill="#a01212" stroke="#000" stroke-width="2.2" stroke-linejoin="round"/>
<polygon points="1968,1798.4 1964.3,1804.81 1956.9,1804.81 1953.2,1798.4 1956.9,1791.99 1964.3,1791.99" fill="#a01212" stroke="#000" stroke-width="2.2" stroke-linejoin="round"/>
<polygon points="1968,1814.6 1964.3,1821.01 1956.9,1821.01 1953.2,1814.6 1956.9,1808.19 1964.3,1808.19" fill="#a01212" stroke="#000" stroke-width="2.2" stroke-linejoin="round"/>
<polygon points="2058.9,1774.7 2067.9,1783.7 2058.9,1792.7 2049.9,1783.7" fill="#1f9dba" stroke="#000" stroke-width="2.2" stroke-linejoin="round"/>
<polygon points="2082.8,1873.8 2091.8,1882.8 2082.8,1891.8 2073.8,1882.8" fill="#1f9dba" stroke="#000" stroke-width="2.2" stroke-linejoin="round"/>
<polygon points="2034.7,1888.5 2043.7,1897.5 2034.7,1906.5 2025.7,1897.5" fill="#1f9dba" stroke="#000" stroke-width="2.2" stroke-linejoin="round"/>
<g transform="translate(1968.7 1996.4) rotate(-45)">
<text x="-127.23" y="0" font-size="24.3" font-weight="bold">Donor</text>
<text x="-55.69" y="-9.96" font-size="20.9">gRNA</text>
</g>
<g transform="translate(2066 1994.9) rotate(-45)">
<text x="-278.52" y="0" font-size="24.3" font-weight="bold" textLength="124.12" lengthAdjust="spacingAndGlyphs">CMV-Cas9</text>
<text x="-154.4" y="-9.96" font-size="20.9" textLength="58.22" lengthAdjust="spacingAndGlyphs">gRNA</text>
<text x="-96.18" y="0" font-size="24.3" font-weight="bold" textLength="96.58" lengthAdjust="spacingAndGlyphs">+ Donor</text>
</g>
</svg>
</body></html>
